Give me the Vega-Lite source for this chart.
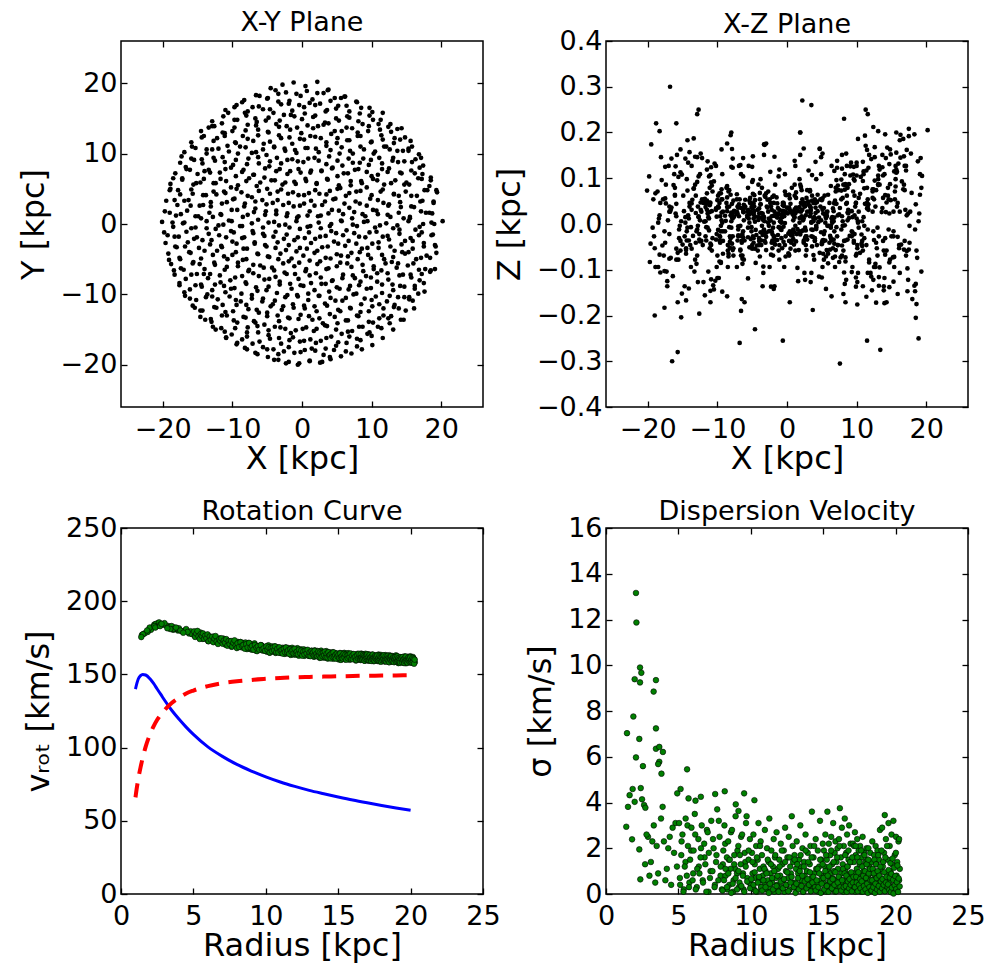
{
"$schema":"https://vega.github.io/schema/vega-lite/v6.json",
"background":"white",
"padding":{"left":16,"top":8,"right":5,"bottom":5},
"autosize":{"type":"pad"},
"config":{
"view":{"stroke":"black","strokeWidth":1.5},
"font":"DejaVu Sans",
"axis":{"labelFont":"DejaVu Sans","labelFontSize":27,"labelColor":"black","titleFont":"DejaVu Sans","titleFontSize":32,"titleFontWeight":"normal","titleColor":"black","grid":false,"domain":false,"tickColor":"black","tickWidth":1.3,"tickSize":-6,"labelFlush":false,"labelOverlap":false},
"axisX":{"labelPadding":15.5,"titlePadding":1},
"axisY":{"labelPadding":10,"titlePadding":10},
"title":{"font":"DejaVu Sans","fontSize":27,"fontWeight":"normal","color":"black","baseline":"alphabetic","frame":"group","anchor":"middle"}
},
"datasets":{
"pts":[
{"x":-4,"y":-19.3,"z":0.023},{"x":-2.3,"y":-19.8,"z":-0.067},{"x":-0.6,"y":-20,"z":0.041},{"x":1.1,"y":-19.4,"z":-0.018},{"x":2.9,"y":-19.6,"z":0.074},{"x":4,"y":-18.9,"z":-0.036},
{"x":-8.2,"y":-17.6,"z":-0.052},{"x":-6.7,"y":-18.3,"z":0.129},{"x":-5,"y":-17.8,"z":0.035},{"x":-3.4,"y":-18.5,"z":-0.093},{"x":-1.9,"y":-17.5,"z":0.018},{"x":-0.2,"y":-18.2,"z":0.064},{"x":1.4,"y":-17.7,"z":-0.022},{"x":3.1,"y":-18.6,"z":0.049},{"x":4.6,"y":-17.9,"z":-0.115},{"x":6.3,"y":-18.1,"z":0.083},{"x":7.9,"y":-17.4,"z":-0.047},
{"x":-10.9,"y":-16.2,"z":0.091},{"x":-9.3,"y":-16.9,"z":-0.148},{"x":-7.9,"y":-16,"z":0.024},{"x":-6.1,"y":-16.7,"z":-0.036},{"x":-4.6,"y":-16.3,"z":0.052},{"x":-3,"y":-17,"z":-0.019},{"x":-1.3,"y":-16.1,"z":0.035},{"x":0.3,"y":-16.6,"z":-0.067},{"x":2,"y":-16.9,"z":0.081},{"x":3.5,"y":-16.2,"z":0.004},{"x":5.2,"y":-16.8,"z":-0.038},{"x":6.8,"y":-16,"z":0.116},{"x":8.4,"y":-16.5,"z":-0.082},{"x":10,"y":-15.9,"z":0.134},
{"x":-12.8,"y":-14.6,"z":-0.127},{"x":-11.1,"y":-15.3,"z":0.041},{"x":-9.6,"y":-14.8,"z":-0.028},{"x":-7.9,"y":-15.4,"z":0.164},{"x":-6.4,"y":-14.5,"z":-0.076},{"x":-4.8,"y":-15.1,"z":0.012},{"x":-3.1,"y":-14.7,"z":0.059},{"x":-1.6,"y":-15.5,"z":-0.035},{"x":0.1,"y":-14.9,"z":0.023},{"x":1.7,"y":-15.2,"z":-0.057},{"x":3.3,"y":-14.4,"z":0.071},{"x":4.9,"y":-15,"z":-0.018},{"x":6.6,"y":-15.3,"z":0.034},{"x":8.2,"y":-14.6,"z":-0.106},{"x":9.7,"y":-15.4,"z":0.062},{"x":11.4,"y":-14.8,"z":-0.159},{"x":12.6,"y":-14.1,"z":0.095},
{"x":-14.6,"y":-13.2,"z":0.143},{"x":-13,"y":-13.9,"z":-0.087},{"x":-11.5,"y":-13,"z":0.031},{"x":-9.8,"y":-13.7,"z":-0.118},{"x":-8.1,"y":-13.3,"z":0.064},{"x":-6.7,"y":-14,"z":-0.026},{"x":-5,"y":-13.1,"z":0.092},{"x":-3.3,"y":-13.8,"z":0.015},{"x":-1.8,"y":-13.4,"z":-0.043},{"x":-0.2,"y":-12.9,"z":0.027},{"x":1.5,"y":-13.6,"z":-0.011},{"x":3,"y":-14.1,"z":0.048},{"x":4.7,"y":-13.2,"z":-0.063},{"x":6.3,"y":-13.7,"z":-0.004},{"x":7.9,"y":-13,"z":0.121},{"x":9.6,"y":-13.9,"z":-0.037},{"x":11.1,"y":-13.4,"z":0.078},{"x":12.8,"y":-13.1,"z":-0.172},{"x":14.2,"y":-13.6,"z":0.026},
{"x":-15.7,"y":-11.6,"z":-0.28},{"x":-14.3,"y":-12.3,"z":0.073},{"x":-12.6,"y":-11.8,"z":-0.034},{"x":-11,"y":-12.5,"z":0.107},{"x":-9.4,"y":-11.5,"z":0.025},{"x":-7.7,"y":-12.1,"z":-0.069},{"x":-6.2,"y":-12.6,"z":0.042},{"x":-4.5,"y":-11.7,"z":-0.013},{"x":-2.9,"y":-12.2,"z":0.038},{"x":-1.3,"y":-11.4,"z":-0.024},{"x":0.4,"y":-12,"z":0.056},{"x":2.1,"y":-12.4,"z":0.017},{"x":3.6,"y":-11.6,"z":-0.049},{"x":5.2,"y":-12.2,"z":0.023},{"x":6.9,"y":-11.9,"z":-0.071},{"x":8.4,"y":-12.5,"z":0.085},{"x":10.1,"y":-11.7,"z":-0.127},{"x":11.7,"y":-12,"z":0.043},{"x":13.3,"y":-11.5,"z":-0.095},{"x":14.9,"y":-12.3,"z":0.152},{"x":15.9,"y":-10.9,"z":-0.028},
{"x":-16.8,"y":-10.2,"z":0.3},{"x":-15.2,"y":-10.8,"z":-0.204},{"x":-13.6,"y":-10,"z":0.053},{"x":-12.1,"y":-10.7,"z":-0.046},{"x":-10.4,"y":-10.3,"z":0.132},{"x":-8.8,"y":-11,"z":0.007},{"x":-7.2,"y":-10.1,"z":-0.094},{"x":-5.6,"y":-10.6,"z":0.031},{"x":-3.9,"y":-10.9,"z":0.068},{"x":-2.4,"y":-10.4,"z":-0.015},{"x":-0.7,"y":-10.1,"z":0.029},{"x":0.9,"y":-10.8,"z":-0.033},{"x":2.5,"y":-10.2,"z":0.047},{"x":4.1,"y":-10.5,"z":0.012},{"x":5.8,"y":-10.9,"z":-0.058},{"x":7.4,"y":-10,"z":0.074},{"x":9,"y":-10.6,"z":-0.026},{"x":10.6,"y":-10.3,"z":0.103},{"x":12.2,"y":-11,"z":-0.145},{"x":13.8,"y":-10.4,"z":0.057},{"x":15.4,"y":-10.7,"z":-0.072},{"x":16.7,"y":-9.9,"z":0.186},
{"x":-17.6,"y":-8.7,"z":-0.103},{"x":-16.1,"y":-9.3,"z":0.064},{"x":-14.5,"y":-8.6,"z":-0.167},{"x":-12.9,"y":-9.4,"z":0.092},{"x":-11.2,"y":-8.8,"z":-0.014},{"x":-9.7,"y":-9.1,"z":0.046},{"x":-8,"y":-8.5,"z":0.125},{"x":-6.4,"y":-9.5,"z":-0.069},{"x":-4.8,"y":-8.9,"z":0.024},{"x":-3.2,"y":-8.6,"z":-0.037},{"x":-1.5,"y":-9.2,"z":0.058},{"x":0.2,"y":-8.8,"z":-0.021},{"x":1.8,"y":-9.4,"z":0.013},{"x":3.4,"y":-8.5,"z":0.036},{"x":5,"y":-9,"z":-0.044},{"x":6.7,"y":-9.3,"z":0.006},{"x":8.2,"y":-8.7,"z":0.23},{"x":9.9,"y":-9.1,"z":-0.117},{"x":11.5,"y":-8.6,"z":0.034},{"x":13.1,"y":-9.4,"z":0.085},{"x":14.7,"y":-8.9,"z":-0.138},{"x":16.2,"y":-9.2,"z":0.027},{"x":17.5,"y":-8.4,"z":-0.056},
{"x":-18.3,"y":-7.2,"z":0.203},{"x":-16.7,"y":-7.8,"z":-0.074},{"x":-15.1,"y":-7.1,"z":0.108},{"x":-13.5,"y":-7.7,"z":-0.026},{"x":-11.8,"y":-7.3,"z":0.055},{"x":-10.3,"y":-8,"z":-0.124},{"x":-8.6,"y":-7.4,"z":0.037},{"x":-7,"y":-7,"z":-0.005},{"x":-5.4,"y":-7.9,"z":-0.051},{"x":-3.8,"y":-7.5,"z":0.043},{"x":-2.2,"y":-7.1,"z":0.017},{"x":-0.5,"y":-7.8,"z":-0.039},{"x":1.1,"y":-7.3,"z":0.062},{"x":2.7,"y":-7.6,"z":-0.014},{"x":4.4,"y":-8,"z":0.028},{"x":5.9,"y":-7.2,"z":-0.086},{"x":7.6,"y":-7.7,"z":-0.305},{"x":9.2,"y":-7.4,"z":0.134},{"x":10.8,"y":-7,"z":-0.048},{"x":12.4,"y":-7.9,"z":0.076},{"x":14,"y":-7.3,"z":-0.173},{"x":15.7,"y":-7.6,"z":0.112},{"x":17.2,"y":-7.1,"z":0.019},{"x":18.4,"y":-6.8,"z":-0.147},
{"x":-18.8,"y":-5.7,"z":0.22},{"x":-17.4,"y":-6.3,"z":0.045},{"x":-15.7,"y":-5.6,"z":-0.063},{"x":-14,"y":-6.4,"z":0.157},{"x":-12.5,"y":-5.8,"z":-0.038},{"x":-10.8,"y":-6.1,"z":0.084},{"x":-9.2,"y":-5.5,"z":-0.016},{"x":-7.6,"y":-6.5,"z":0.029},{"x":-6,"y":-5.9,"z":0.053},{"x":-4.3,"y":-6.2,"z":-0.047},{"x":-2.7,"y":-5.6,"z":0.003},{"x":-1.1,"y":-6,"z":0.031},{"x":0.6,"y":-6.4,"z":-0.025},{"x":2.2,"y":-5.7,"z":0.044},{"x":3.8,"y":-6.3,"z":-0.068},{"x":5.5,"y":-5.5,"z":0.019},{"x":7.1,"y":-6.1,"z":0.096},{"x":8.7,"y":-5.8,"z":-0.034},{"x":10.3,"y":-6.4,"z":0.057},{"x":12,"y":-5.6,"z":-0.107},{"x":13.6,"y":-6.2,"z":0.026},{"x":15.2,"y":-5.9,"z":-0.073},{"x":16.8,"y":-6.5,"z":0.148},{"x":18.5,"y":-6.6,"z":-0.205},
{"x":-19.2,"y":-4.2,"z":0.054},{"x":-17.6,"y":-4.8,"z":-0.183},{"x":-16,"y":-4.1,"z":0.126},{"x":-14.5,"y":-4.9,"z":-0.057},{"x":-12.8,"y":-4.4,"z":0.038},{"x":-11.2,"y":-4.6,"z":0.104},{"x":-9.5,"y":-4,"z":-0.083},{"x":-8,"y":-5,"z":0.025},{"x":-6.3,"y":-4.3,"z":-0.029},{"x":-4.7,"y":-4.7,"z":0.063},{"x":-3.1,"y":-4.2,"z":-0.041},{"x":-1.5,"y":-4.9,"z":0.017},{"x":0.2,"y":-4.5,"z":0.034},{"x":1.8,"y":-4.1,"z":-0.016},{"x":3.4,"y":-4.8,"z":0.029},{"x":5,"y":-4.3,"z":0.052},{"x":6.6,"y":-4.6,"z":-0.074},{"x":8.3,"y":-4,"z":-0.003},{"x":9.9,"y":-4.9,"z":0.046},{"x":11.5,"y":-4.4,"z":-0.255},{"x":13.1,"y":-4.7,"z":0.087},{"x":14.8,"y":-4.2,"z":0.163},{"x":16.4,"y":-5,"z":-0.045},{"x":17.9,"y":-4.5,"z":0.068},{"x":19.3,"y":-4.1,"z":-0.104},
{"x":-19.6,"y":-2.7,"z":-0.043},{"x":-18,"y":-3.3,"z":0.096},{"x":-16.4,"y":-2.6,"z":-0.114},{"x":-14.8,"y":-3.4,"z":0.028},{"x":-13.2,"y":-2.9,"z":0.147},{"x":-11.6,"y":-3.1,"z":-0.036},{"x":-10,"y":-2.5,"z":0.052},{"x":-8.4,"y":-3.5,"z":-0.065},{"x":-6.8,"y":-2.8,"z":-0.26},{"x":-5.1,"y":-3.2,"z":0.037},{"x":-3.5,"y":-2.6,"z":-0.024},{"x":-1.9,"y":-3,"z":0.046},{"x":-0.3,"y":-3.4,"z":0.002},{"x":1.3,"y":-2.7,"z":-0.038},{"x":2.9,"y":-3.3,"z":0.027},{"x":4.6,"y":-2.5,"z":0.014},{"x":6.2,"y":-3.1,"z":-0.056},{"x":7.8,"y":-2.8,"z":0.073},{"x":9.4,"y":-3.4,"z":-0.018},{"x":11,"y":-2.6,"z":0.115},{"x":12.7,"y":-3.2,"z":-0.094},{"x":14.3,"y":-2.9,"z":0.047},{"x":15.9,"y":-3.5,"z":-0.153},{"x":17.5,"y":-2.7,"z":0.192},{"x":19.1,"y":-3,"z":0.064},
{"x":-19.8,"y":-1.2,"z":0.104},{"x":-18.3,"y":-1.8,"z":-0.067},{"x":-16.6,"y":-1.1,"z":0.036},{"x":-15.1,"y":-1.9,"z":-0.152},{"x":-13.4,"y":-1.4,"z":0.078},{"x":-11.9,"y":-1.6,"z":0.005},{"x":-10.2,"y":-1,"z":-0.034},{"x":-8.6,"y":-2,"z":0.058},{"x":-7,"y":-1.3,"z":-0.027},{"x":-5.4,"y":-1.7,"z":0.021},{"x":-3.8,"y":-1.1,"z":0.043},{"x":-2.2,"y":-1.5,"z":-0.016},{"x":-0.6,"y":-1.9,"z":-0.255},{"x":1,"y":-1.2,"z":-0.045},{"x":2.6,"y":-1.8,"z":0.039},{"x":4.2,"y":-1,"z":-0.007},{"x":5.9,"y":-1.6,"z":0.064},{"x":7.5,"y":-1.3,"z":-0.083},{"x":9.1,"y":-1.9,"z":0.126},{"x":10.7,"y":-1.1,"z":-0.023},{"x":12.3,"y":-1.7,"z":0.057},{"x":14,"y":-1.4,"z":-0.118},{"x":15.6,"y":-2,"z":0.082},{"x":17.2,"y":-1.2,"z":-0.059},{"x":18.8,"y":-1.5,"z":0.137},
{"x":-20.1,"y":0.3,"z":0.073},{"x":-18.5,"y":-0.4,"z":-0.094},{"x":-16.9,"y":0.2,"z":0.027},{"x":-15.3,"y":-0.5,"z":0.113},{"x":-13.7,"y":0.4,"z":-0.054},{"x":-12,"y":-0.2,"z":0.046},{"x":-10.5,"y":0.5,"z":-0.143},{"x":-8.9,"y":-0.3,"z":0.018},{"x":-7.2,"y":0.1,"z":0.065},{"x":-5.6,"y":-0.5,"z":-0.029},{"x":-4,"y":0.3,"z":0.034},{"x":-2.4,"y":-0.1,"z":0.008},{"x":-0.8,"y":0.4,"z":-0.013},{"x":0.8,"y":-0.4,"z":0.026},{"x":2.4,"y":0.2,"z":-0.037},{"x":4,"y":-0.3,"z":0.054},{"x":5.6,"y":0.5,"z":0.015},{"x":7.3,"y":-0.1,"z":-0.046},{"x":8.9,"y":0.3,"z":0.087},{"x":10.5,"y":-0.5,"z":-0.063},{"x":12.1,"y":0.1,"z":0.142},{"x":13.7,"y":-0.2,"z":0.035},{"x":15.3,"y":0.4,"z":-0.126},{"x":16.9,"y":-0.4,"z":0.074},{"x":18.6,"y":0.2,"z":-0.175},{"x":20.2,"y":0.4,"z":0.205},
{"x":-19.7,"y":1.8,"z":-0.083},{"x":-18.1,"y":1.2,"z":0.146},{"x":-16.5,"y":1.9,"z":-0.3},{"x":-14.9,"y":1.1,"z":0.062},{"x":-13.3,"y":1.6,"z":-0.104},{"x":-11.7,"y":1.4,"z":0.037},{"x":-10.1,"y":2,"z":0.016},{"x":-8.5,"y":1,"z":-0.058},{"x":-6.9,"y":1.7,"z":0.043},{"x":-5.3,"y":1.3,"z":0.024},{"x":-3.7,"y":1.9,"z":-0.036},{"x":-2.1,"y":1.5,"z":0.059},{"x":-0.5,"y":1.1,"z":-0.006},{"x":1.1,"y":1.8,"z":0.032},{"x":2.7,"y":1.2,"z":-0.027},{"x":4.3,"y":2,"z":0.048},{"x":5.9,"y":1.4,"z":-0.065},{"x":7.5,"y":1.7,"z":0.021},{"x":9.1,"y":1.1,"z":0.106},{"x":10.7,"y":1.9,"z":-0.043},{"x":12.3,"y":1.3,"z":0.076},{"x":13.9,"y":1.6,"z":-0.145},{"x":15.5,"y":1,"z":0.054},{"x":17.1,"y":1.8,"z":0.127},{"x":18.7,"y":1.5,"z":-0.074},
{"x":-19.5,"y":3.3,"z":0.174},{"x":-17.9,"y":2.7,"z":-0.047},{"x":-16.3,"y":3.4,"z":0.085},{"x":-14.7,"y":2.6,"z":-0.136},{"x":-13.1,"y":3.1,"z":0.024},{"x":-11.5,"y":2.9,"z":0.067},{"x":-9.9,"y":3.5,"z":-0.013},{"x":-8.3,"y":2.5,"z":0.038},{"x":-6.7,"y":3.2,"z":-0.056},{"x":-5.1,"y":2.8,"z":0.045},{"x":-3.5,"y":3.4,"z":0.012},{"x":-1.9,"y":3,"z":-0.028},{"x":-0.3,"y":2.6,"z":0.026},{"x":1.3,"y":3.3,"z":0.057},{"x":2.9,"y":2.7,"z":-0.034},{"x":4.5,"y":3.5,"z":0.004},{"x":6.1,"y":2.9,"z":0.046},{"x":7.7,"y":3.2,"z":-0.073},{"x":9.3,"y":2.6,"z":0.028},{"x":10.9,"y":3.4,"z":0.094},{"x":12.5,"y":2.8,"z":-0.035},{"x":14.1,"y":3.1,"z":0.063},{"x":15.7,"y":2.5,"z":0.156},{"x":17.3,"y":3.3,"z":-0.097},{"x":18.9,"y":3,"z":-0.25},
{"x":-19,"y":4.8,"z":-0.2},{"x":-17.5,"y":4.2,"z":0.056},{"x":-15.9,"y":4.9,"z":-0.078},{"x":-14.2,"y":4.1,"z":0.134},{"x":-12.7,"y":4.6,"z":0.015},{"x":-11,"y":4.4,"z":-0.043},{"x":-9.4,"y":5,"z":0.076},{"x":-7.8,"y":4,"z":-0.027},{"x":-6.2,"y":4.7,"z":0.034},{"x":-4.6,"y":4.3,"z":0.005},{"x":-3,"y":4.9,"z":-0.057},{"x":-1.3,"y":4.5,"z":0.023},{"x":0.3,"y":4.1,"z":0.064},{"x":1.9,"y":4.8,"z":-0.018},{"x":3.5,"y":4.2,"z":0.26},{"x":5.1,"y":5,"z":-0.036},{"x":6.8,"y":4.4,"z":0.014},{"x":8.4,"y":4.7,"z":0.087},{"x":10,"y":4.1,"z":-0.065},{"x":11.6,"y":4.9,"z":0.037},{"x":13.2,"y":4.3,"z":-0.116},{"x":14.9,"y":4.6,"z":0.052},{"x":16.5,"y":4,"z":0.093},{"x":18,"y":4.8,"z":-0.164},{"x":19.4,"y":4.5,"z":0.105},
{"x":-18.9,"y":5.7,"z":0.067},{"x":-17.2,"y":6.3,"z":-0.125},{"x":-15.6,"y":5.6,"z":0.103},{"x":-14.1,"y":6.4,"z":-0.036},{"x":-12.4,"y":5.8,"z":0.047},{"x":-10.9,"y":6.1,"z":0.124},{"x":-9.2,"y":5.5,"z":-0.065},{"x":-7.6,"y":6.5,"z":0.016},{"x":-6,"y":5.9,"z":0.038},{"x":-4.4,"y":6.2,"z":-0.024},{"x":-2.8,"y":5.6,"z":0.053},{"x":-1.1,"y":6,"z":-0.046},{"x":0.5,"y":6.4,"z":0.027},{"x":2.1,"y":5.7,"z":0.074},{"x":3.7,"y":6.3,"z":-0.013},{"x":5.3,"y":5.5,"z":0.035},{"x":7,"y":6.1,"z":-0.057},{"x":8.6,"y":5.8,"z":0.046},{"x":10.2,"y":6.4,"z":0.006},{"x":11.8,"y":5.6,"z":-0.084},{"x":13.4,"y":6.2,"z":-0.275},{"x":15,"y":5.9,"z":-0.027},{"x":16.7,"y":6.5,"z":0.076},{"x":18.3,"y":5.4,"z":-0.135},
{"x":-18.2,"y":7.2,"z":-0.106},{"x":-16.6,"y":7.8,"z":0.143},{"x":-15,"y":7.1,"z":-0.045},{"x":-13.4,"y":7.7,"z":0.077},{"x":-11.8,"y":7.3,"z":-0.156},{"x":-10.2,"y":8,"z":0.034},{"x":-8.6,"y":7.4,"z":0.083},{"x":-7,"y":7,"z":-0.025},{"x":-5.3,"y":7.9,"z":0.057},{"x":-3.7,"y":7.5,"z":0.014},{"x":-2.1,"y":7.1,"z":-0.036},{"x":-0.5,"y":7.8,"z":0.046},{"x":1.2,"y":7.3,"z":0.023},{"x":2.8,"y":7.6,"z":-0.057},{"x":4.4,"y":8,"z":0.064},{"x":6,"y":7.2,"z":-0.004},{"x":7.6,"y":7.7,"z":0.035},{"x":9.3,"y":7.4,"z":-0.105},{"x":10.9,"y":7,"z":0.136},{"x":12.5,"y":7.9,"z":0.054},{"x":14.1,"y":7.3,"z":-0.067},{"x":15.7,"y":7.6,"z":0.2},{"x":17.3,"y":7.1,"z":-0.147},{"x":18.5,"y":6.6,"z":0.043},
{"x":-17.5,"y":8.7,"z":0.125},{"x":-15.9,"y":9.3,"z":-0.054},{"x":-14.3,"y":8.6,"z":0.183},{"x":-12.7,"y":9.4,"z":0.25},{"x":-11.1,"y":8.8,"z":0.026},{"x":-9.5,"y":9.1,"z":0.067},{"x":-7.9,"y":8.5,"z":-0.043},{"x":-6.3,"y":9.5,"z":0.104},{"x":-4.6,"y":8.9,"z":0.016},{"x":-3,"y":8.6,"z":-0.028},{"x":-1.4,"y":9.2,"z":0.045},{"x":0.2,"y":8.8,"z":-0.064},{"x":1.8,"y":9.4,"z":0.037},{"x":3.5,"y":8.5,"z":0.003},{"x":5.1,"y":9,"z":0.056},{"x":6.7,"y":9.3,"z":-0.034},{"x":8.3,"y":8.7,"z":0.075},{"x":9.9,"y":9.1,"z":-0.137},{"x":11.5,"y":8.6,"z":0.046},{"x":13.1,"y":9.4,"z":0.106},{"x":14.7,"y":8.9,"z":-0.084},{"x":16.3,"y":9.2,"z":0.145},{"x":17.4,"y":8.3,"z":0.023},
{"x":-16.9,"y":10.2,"z":-0.076},{"x":-15.3,"y":10.8,"z":0.163},{"x":-13.7,"y":10,"z":0.045},{"x":-12,"y":10.7,"z":-0.127},{"x":-10.5,"y":10.3,"z":0.093},{"x":-8.9,"y":11,"z":-0.016},{"x":-7.2,"y":10.1,"z":0.054},{"x":-5.6,"y":10.6,"z":0.027},{"x":-4,"y":10.9,"z":-0.046},{"x":-2.4,"y":10.4,"z":0.114},{"x":-0.8,"y":10.1,"z":0.004},{"x":0.8,"y":10.8,"z":-0.025},{"x":2.4,"y":10.2,"z":0.165},{"x":4.1,"y":10.5,"z":0.036},{"x":5.7,"y":10.9,"z":-0.057},{"x":7.3,"y":10,"z":0.084},{"x":8.9,"y":10.6,"z":0.013},{"x":10.5,"y":10.3,"z":0.066},{"x":12.1,"y":11,"z":-0.115},{"x":13.7,"y":10.4,"z":0.124},{"x":15.3,"y":10.7,"z":0.027},{"x":16.8,"y":9.9,"z":-0.056},
{"x":-15.9,"y":11.6,"z":0.22},{"x":-14.4,"y":12.3,"z":-0.036},{"x":-12.7,"y":11.8,"z":0.104},{"x":-11.1,"y":12.5,"z":0.047},{"x":-9.5,"y":11.5,"z":-0.085},{"x":-7.8,"y":12.1,"z":0.143},{"x":-6.3,"y":12.6,"z":0.026},{"x":-4.6,"y":11.7,"z":-0.054},{"x":-3,"y":12.2,"z":0.067},{"x":-1.4,"y":11.4,"z":0.014},{"x":0.3,"y":12,"z":0.036},{"x":1.9,"y":12.4,"z":0.2},{"x":3.5,"y":11.6,"z":-0.027},{"x":5.1,"y":12.2,"z":0.154},{"x":6.8,"y":11.9,"z":0.045},{"x":8.4,"y":12.5,"z":-0.073},{"x":10,"y":11.7,"z":0.106},{"x":11.6,"y":12,"z":0.24},{"x":13.2,"y":11.5,"z":-0.135},{"x":14.8,"y":12.3,"z":0.087},{"x":15.8,"y":11,"z":0.114},
{"x":-14.5,"y":13.2,"z":-0.065},{"x":-12.9,"y":13.9,"z":0.24},{"x":-11.4,"y":13,"z":0.137},{"x":-9.7,"y":13.7,"z":-0.026},{"x":-8.1,"y":13.3,"z":0.194},{"x":-6.6,"y":14,"z":0.035},{"x":-4.9,"y":13.1,"z":0.096},{"x":-3.3,"y":13.8,"z":0.174},{"x":-1.7,"y":13.4,"z":-0.045},{"x":-0.1,"y":12.9,"z":0.063},{"x":1.6,"y":13.6,"z":0.028},{"x":3.1,"y":14.1,"z":0.117},{"x":4.7,"y":13.2,"z":0.165},{"x":6.4,"y":13.7,"z":-0.036},{"x":8,"y":13,"z":0.057},{"x":9.6,"y":13.9,"z":0.125},{"x":11.2,"y":13.4,"z":0.193},{"x":12.8,"y":13.1,"z":0.074},{"x":14.3,"y":13.6,"z":-0.058},
{"x":-12.9,"y":14.6,"z":0.146},{"x":-11.3,"y":15.3,"z":-0.104},{"x":-9.7,"y":14.8,"z":0.067},{"x":-8,"y":15.4,"z":0.2},{"x":-6.5,"y":14.5,"z":-0.164},{"x":-4.8,"y":15.1,"z":0.045},{"x":-3.2,"y":14.7,"z":0.173},{"x":-1.6,"y":15.5,"z":0.017},{"x":0,"y":14.9,"z":0.036},{"x":1.6,"y":15.2,"z":-0.125},{"x":3.3,"y":14.4,"z":0.074},{"x":4.9,"y":15,"z":0.146},{"x":6.5,"y":15.3,"z":0.006},{"x":8.1,"y":14.6,"z":-0.153},{"x":9.7,"y":15.4,"z":0.095},{"x":11.3,"y":14.8,"z":0.25},{"x":12.7,"y":14.2,"z":-0.087},
{"x":-11,"y":16.2,"z":-0.146},{"x":-9.4,"y":16.9,"z":0.054},{"x":-7.8,"y":16,"z":-0.057},{"x":-6.2,"y":16.7,"z":0.026},{"x":-4.6,"y":16.3,"z":-0.23},{"x":-3,"y":17,"z":0.176},{"x":-1.4,"y":16.1,"z":-0.035},{"x":0.3,"y":16.6,"z":0.064},{"x":1.9,"y":16.9,"z":0.2},{"x":3.6,"y":16.2,"z":0.107},{"x":5.2,"y":16.8,"z":-0.065},{"x":6.8,"y":16,"z":-0.043},{"x":8.5,"y":16.5,"z":0.154},{"x":10.1,"y":15.9,"z":-0.176},
{"x":-8.3,"y":17.6,"z":0.074},{"x":-6.6,"y":18.3,"z":-0.19},{"x":-5,"y":17.8,"z":0.125},{"x":-3.4,"y":18.5,"z":-0.016},{"x":-1.8,"y":17.5,"z":0.147},{"x":-0.2,"y":18.2,"z":0.025},{"x":1.5,"y":17.7,"z":-0.096},{"x":3.1,"y":18.6,"z":0.043},{"x":4.7,"y":17.9,"z":0.164},{"x":6.2,"y":18.1,"z":-0.026},{"x":7.8,"y":17.4,"z":0.097},
{"x":-4.5,"y":19.3,"z":-0.085},{"x":-2.8,"y":19.8,"z":0.036},{"x":-1.2,"y":20.1,"z":0.104},{"x":0.5,"y":19.6,"z":-0.054},{"x":2.2,"y":20.2,"z":0.27},{"x":3.8,"y":19.1,"z":0.046},
{"y":-6.6,"x":-18.4,"z":0.012},{"y":-5.1,"x":-19.1,"z":-0.027},{"y":-3.2,"x":-18.2,"z":0.046},{"y":-1.6,"x":-19.3,"z":-0.008},{"y":0.2,"x":-18.6,"z":0.071},{"y":1.6,"x":-19,"z":-0.053},{"y":3.4,"x":-18.3,"z":0.019},{"y":5,"x":-18.9,"z":-0.094},{"y":6.5,"x":-18.5,"z":0.003},
{"y":-9.7,"x":-16.9,"z":0.038},{"y":-8.4,"x":-17.6,"z":-0.016},{"y":-6.5,"x":-17,"z":0.127},{"y":-5,"x":-17.5,"z":-0.041},{"y":-3.2,"x":-16.8,"z":0.027},{"y":-1.8,"x":-17.7,"z":-0.069},{"y":0.1,"x":-17.1,"z":0.008},{"y":1.4,"x":-17.4,"z":0.086},{"y":3.3,"x":-16.9,"z":-0.022},{"y":4.8,"x":-17.8,"z":0.054},{"y":6.5,"x":-17.2,"z":-0.136},{"y":8.1,"x":-16.7,"z":0.031},{"y":9.6,"x":-17.3,"z":-0.104},
{"y":-11.9,"x":-15.4,"z":-0.004},{"y":-10.6,"x":-16.1,"z":0.062},{"y":-8.7,"x":-15.3,"z":-0.037},{"y":-7.2,"x":-15.9,"z":0.017},{"y":-5.4,"x":-15.6,"z":-0.078},{"y":-4,"x":-16.2,"z":0.109},{"y":-2.1,"x":-15.5,"z":-0.012},{"y":-0.6,"x":-15.9,"z":0.044},{"y":1.1,"x":-15.3,"z":-0.058},{"y":2.6,"x":-16,"z":0.023},{"y":4.3,"x":-15.7,"z":-0.171},{"y":5.8,"x":-15.2,"z":0.006},{"y":7.7,"x":-16.1,"z":0.079},{"y":9.1,"x":-15.5,"z":-0.031},{"y":11,"x":-15.8,"z":0.151},
{"y":-13.6,"x":-13.9,"z":-0.046},{"y":-12.3,"x":-14.6,"z":0.015},{"y":-10.4,"x":-13.8,"z":-0.007},{"y":-8.9,"x":-14.4,"z":0.098},{"y":-7.1,"x":-14.1,"z":0.012},{"y":-5.7,"x":-14.7,"z":-0.027},{"y":-3.8,"x":-14,"z":0.046},{"y":-2.3,"x":-14.3,"z":-0.008},{"y":-0.6,"x":-13.7,"z":0.031},{"y":0.8,"x":-14.5,"z":-0.053},{"y":2.7,"x":-14.2,"z":0.019},{"y":4.1,"x":-13.8,"z":-0.094},{"y":5.9,"x":-14.6,"z":0.003},{"y":7.5,"x":-14,"z":0.038},{"y":9.2,"x":-14.4,"z":-0.016},{"y":10.6,"x":-13.7,"z":0.127},{"y":12.5,"x":-14.1,"z":-0.141},{"y":13.7,"x":-13.4,"z":0.187},
{"y":-15,"x":-12.4,"z":0.154},{"y":-13.5,"x":-13.1,"z":-0.041},{"y":-11.9,"x":-12.3,"z":0.027},{"y":-10.3,"x":-12.9,"z":-0.069},{"y":-8.6,"x":-12.5,"z":0.008},{"y":-7.1,"x":-13.2,"z":0.086},{"y":-5.5,"x":-12.6,"z":-0.022},{"y":-3.8,"x":-12.2,"z":0.054},{"y":-2.3,"x":-13,"z":-0.016},{"y":-0.7,"x":-12.4,"z":0.031},{"y":1,"x":-12.8,"z":-0.004},{"y":2.5,"x":-13.1,"z":0.062},{"y":4.2,"x":-12.3,"z":-0.037},{"y":5.8,"x":-12.7,"z":0.017},{"y":7.3,"x":-13.2,"z":-0.078},{"y":9,"x":-12.5,"z":0.109},{"y":10.6,"x":-12.9,"z":-0.012},{"y":12.2,"x":-12.2,"z":0.144},{"y":13.9,"x":-12.6,"z":-0.196},
{"y":-16.1,"x":-10.9,"z":-0.121},{"y":-14.8,"x":-11.6,"z":0.044},{"y":-13,"x":-10.8,"z":-0.058},{"y":-11.5,"x":-11.4,"z":0.023},{"y":-9.7,"x":-11,"z":-0.171},{"y":-8.3,"x":-11.7,"z":0.006},{"y":-6.5,"x":-11.1,"z":0.079},{"y":-5,"x":-10.7,"z":-0.031},{"y":-3.3,"x":-11.5,"z":0.051},{"y":-1.9,"x":-10.9,"z":-0.046},{"y":-0.1,"x":-11.3,"z":0.015},{"y":1.3,"x":-11.6,"z":-0.007},{"y":3.1,"x":-10.8,"z":0.028},{"y":4.6,"x":-11.2,"z":0.012},{"y":6.4,"x":-11.7,"z":-0.027},{"y":7.8,"x":-11,"z":0.046},{"y":9.5,"x":-11.4,"z":-0.008},{"y":11.1,"x":-10.7,"z":0.071},{"y":12.9,"x":-11.1,"z":-0.053},{"y":14.3,"x":-11.5,"z":0.119},{"y":15.8,"x":-10.6,"z":-0.134},
{"y":-17.1,"x":-9.4,"z":0.163},{"y":-15.7,"x":-10.1,"z":-0.094},{"y":-14,"x":-9.3,"z":0.003},{"y":-12.4,"x":-9.9,"z":0.038},{"y":-10.8,"x":-9.5,"z":-0.016},{"y":-9.2,"x":-10.2,"z":0.127},{"y":-7.6,"x":-9.6,"z":-0.041},{"y":-6,"x":-9.2,"z":0.027},{"y":-4.4,"x":-10,"z":-0.069},{"y":-2.8,"x":-9.4,"z":0.008},{"y":-1.2,"x":-9.8,"z":0.036},{"y":0.4,"x":-10.1,"z":-0.022},{"y":2,"x":-9.3,"z":0.054},{"y":3.6,"x":-9.7,"z":-0.036},{"y":5.2,"x":-10.2,"z":0.031},{"y":6.8,"x":-9.5,"z":-0.004},{"y":8.4,"x":-9.9,"z":0.062},{"y":10,"x":-9.2,"z":-0.037},{"y":11.6,"x":-9.6,"z":0.017},{"y":13.2,"x":-10,"z":-0.118},{"y":14.8,"x":-9.3,"z":0.109},{"y":16.6,"x":-9.7,"z":-0.082},
{"y":-17.8,"x":-7.9,"z":0.044},{"y":-16.4,"x":-8.6,"z":-0.158},{"y":-14.7,"x":-7.8,"z":0.023},{"y":-13.2,"x":-8.4,"z":-0.071},{"y":-11.5,"x":-8,"z":0.006},{"y":-9.9,"x":-8.7,"z":0.079},{"y":-8.3,"x":-8.1,"z":-0.031},{"y":-6.7,"x":-7.7,"z":0.051},{"y":-5.1,"x":-8.5,"z":-0.046},{"y":-3.5,"x":-7.9,"z":0.015},{"y":-1.9,"x":-8.3,"z":-0.007},{"y":-0.3,"x":-8.6,"z":0.028},{"y":1.3,"x":-7.8,"z":0.012},{"y":2.9,"x":-8.2,"z":-0.027},{"y":4.5,"x":-8.7,"z":0.046},{"y":6.1,"x":-8,"z":-0.008},{"y":7.7,"x":-8.4,"z":0.071},{"y":9.3,"x":-7.7,"z":-0.053},{"y":10.9,"x":-8.1,"z":0.019},{"y":12.5,"x":-8.5,"z":-0.094},{"y":14.1,"x":-7.8,"z":0.123},{"y":15.8,"x":-8.2,"z":-0.039},{"y":17.3,"x":-8.6,"z":0.176},
{"y":-18.5,"x":-6.4,"z":-0.087},{"y":-17,"x":-7.1,"z":0.038},{"y":-15.4,"x":-6.3,"z":-0.016},{"y":-13.8,"x":-6.9,"z":0.127},{"y":-12.2,"x":-6.5,"z":-0.041},{"y":-10.6,"x":-7.2,"z":0.027},{"y":-9,"x":-6.6,"z":-0.069},{"y":-7.4,"x":-6.2,"z":0.008},{"y":-5.8,"x":-7,"z":0.036},{"y":-4.2,"x":-6.4,"z":-0.022},{"y":-2.6,"x":-6.8,"z":0.054},{"y":-1,"x":-7.1,"z":-0.036},{"y":0.6,"x":-6.3,"z":0.031},{"y":2.2,"x":-6.7,"z":-0.004},{"y":3.8,"x":-7.2,"z":0.022},{"y":5.4,"x":-6.5,"z":-0.037},{"y":7,"x":-6.9,"z":0.017},{"y":8.6,"x":-6.2,"z":-0.078},{"y":10.2,"x":-6.6,"z":0.109},{"y":11.8,"x":-7,"z":-0.012},{"y":13.4,"x":-6.3,"z":0.144},{"y":15,"x":-6.7,"z":-0.058},{"y":16.6,"x":-7.1,"z":0.023},{"y":18.2,"x":-6.1,"z":-0.171},
{"y":-18.9,"x":-4.9,"z":0.066},{"y":-17.5,"x":-5.6,"z":0.079},{"y":-15.8,"x":-4.8,"z":-0.031},{"y":-14.3,"x":-5.4,"z":0.051},{"y":-12.6,"x":-5,"z":-0.046},{"y":-11,"x":-5.7,"z":0.015},{"y":-9.4,"x":-5.1,"z":-0.007},{"y":-7.8,"x":-4.7,"z":0.028},{"y":-6.2,"x":-5.5,"z":0.012},{"y":-4.6,"x":-4.9,"z":-0.027},{"y":-3,"x":-5.3,"z":0.046},{"y":-1.4,"x":-5.6,"z":-0.008},{"y":0.2,"x":-4.8,"z":0.021},{"y":1.8,"x":-5.2,"z":-0.033},{"y":3.4,"x":-5.7,"z":0.019},{"y":5,"x":-5,"z":-0.054},{"y":6.6,"x":-5.4,"z":0.003},{"y":8.2,"x":-4.7,"z":0.038},{"y":9.8,"x":-5.1,"z":-0.016},{"y":11.4,"x":-5.5,"z":0.127},{"y":13,"x":-4.8,"z":-0.041},{"y":14.7,"x":-5.2,"z":0.027},{"y":16.3,"x":-5.6,"z":-0.119},{"y":17.9,"x":-4.9,"z":0.148},
{"y":-19.3,"x":-3.4,"z":0.008},{"y":-17.8,"x":-4.1,"z":0.086},{"y":-16.2,"x":-3.3,"z":-0.022},{"y":-14.6,"x":-3.9,"z":0.054},{"y":-13,"x":-3.5,"z":-0.136},{"y":-11.4,"x":-4.2,"z":0.031},{"y":-9.8,"x":-3.6,"z":-0.004},{"y":-8.2,"x":-3.2,"z":0.062},{"y":-6.6,"x":-4,"z":-0.037},{"y":-5,"x":-3.4,"z":0.017},{"y":-3.4,"x":-3.8,"z":-0.018},{"y":-1.8,"x":-4.1,"z":0.009},{"y":-0.2,"x":-3.3,"z":-0.012},{"y":1.4,"x":-3.7,"z":0.024},{"y":3,"x":-4.2,"z":-0.058},{"y":4.6,"x":-3.5,"z":0.023},{"y":6.2,"x":-3.9,"z":-0.071},{"y":7.8,"x":-3.2,"z":0.006},{"y":9.4,"x":-3.6,"z":0.079},{"y":11,"x":-4,"z":-0.031},{"y":12.6,"x":-3.3,"z":0.151},{"y":14.2,"x":-3.7,"z":-0.046},{"y":15.8,"x":-4.1,"z":0.015},{"y":17.4,"x":-3.4,"z":-0.107},{"y":19,"x":-3.8,"z":0.098},
{"y":-19.6,"x":-1.9,"z":-0.142},{"y":-18.1,"x":-2.6,"z":0.012},{"y":-16.5,"x":-1.8,"z":-0.027},{"y":-14.9,"x":-2.4,"z":0.046},{"y":-13.3,"x":-2,"z":-0.008},{"y":-11.7,"x":-2.7,"z":0.071},{"y":-10.1,"x":-2.1,"z":-0.053},{"y":-8.5,"x":-1.7,"z":0.019},{"y":-6.9,"x":-2.5,"z":-0.094},{"y":-5.3,"x":-1.9,"z":0.003},{"y":-3.7,"x":-2.3,"z":0.038},{"y":-2.1,"x":-2.6,"z":-0.016},{"y":-0.5,"x":-1.8,"z":0.027},{"y":1.1,"x":-2.2,"z":-0.041},{"y":2.7,"x":-2.7,"z":0.027},{"y":4.3,"x":-2,"z":-0.069},{"y":5.9,"x":-2.4,"z":0.008},{"y":7.5,"x":-1.7,"z":0.086},{"y":9.1,"x":-2.1,"z":-0.022},{"y":10.7,"x":-2.5,"z":0.054},{"y":12.3,"x":-1.8,"z":-0.136},{"y":13.9,"x":-2.2,"z":0.031},{"y":15.5,"x":-2.6,"z":-0.004},{"y":17.1,"x":-1.9,"z":0.062},{"y":18.7,"x":-2.3,"z":-0.137},
{"y":-19.8,"x":-0.4,"z":0.017},{"y":-18.3,"x":-1.1,"z":-0.078},{"y":-16.7,"x":-0.3,"z":0.109},{"y":-15.1,"x":-0.9,"z":-0.012},{"y":-13.5,"x":-0.5,"z":0.044},{"y":-11.9,"x":-1.2,"z":-0.058},{"y":-10.3,"x":-0.6,"z":0.023},{"y":-8.7,"x":-0.2,"z":-0.071},{"y":-7.1,"x":-1,"z":0.006},{"y":-5.5,"x":-0.4,"z":0.039},{"y":-3.9,"x":-0.8,"z":-0.031},{"y":-2.3,"x":-1.1,"z":0.021},{"y":-0.7,"x":-0.3,"z":-0.046},{"y":0.9,"x":-0.7,"z":0.015},{"y":2.5,"x":-1.2,"z":-0.007},{"y":4.1,"x":-0.5,"z":0.028},{"y":5.7,"x":-0.9,"z":0.012},{"y":7.3,"x":-0.2,"z":-0.027},{"y":8.9,"x":-0.6,"z":0.046},{"y":10.5,"x":-1,"z":-0.008},{"y":12.1,"x":-0.3,"z":0.071},{"y":13.7,"x":-0.7,"z":-0.053},{"y":15.3,"x":-1.1,"z":0.119},{"y":16.9,"x":-0.4,"z":-0.094},{"y":18.5,"x":-0.8,"z":0.003},
{"y":-19.5,"x":1.1,"z":0.138},{"y":-17.9,"x":0.4,"z":-0.016},{"y":-16.4,"x":1.2,"z":0.127},{"y":-14.7,"x":0.6,"z":-0.041},{"y":-13.1,"x":1,"z":0.027},{"y":-11.6,"x":0.3,"z":-0.069},{"y":-9.9,"x":0.9,"z":0.008},{"y":-8.4,"x":1.3,"z":0.036},{"y":-6.7,"x":0.5,"z":-0.022},{"y":-5.2,"x":1.1,"z":0.014},{"y":-3.5,"x":0.7,"z":-0.036},{"y":-2,"x":0.4,"z":0.031},{"y":-0.3,"x":1.2,"z":-0.004},{"y":1.2,"x":0.8,"z":0.022},{"y":2.9,"x":0.3,"z":-0.037},{"y":4.4,"x":1,"z":0.017},{"y":6.1,"x":0.6,"z":-0.018},{"y":7.6,"x":1.3,"z":0.069},{"y":9.3,"x":0.9,"z":-0.012},{"y":10.8,"x":0.5,"z":0.044},{"y":12.5,"x":1.2,"z":-0.058},{"y":14,"x":0.8,"z":0.023},{"y":15.7,"x":0.4,"z":-0.171},{"y":17.2,"x":1.1,"z":0.086},{"y":18.9,"x":0.7,"z":0.079},
{"y":-19.7,"x":2.6,"z":-0.031},{"y":-18,"x":1.9,"z":0.151},{"y":-16.6,"x":2.7,"z":-0.046},{"y":-14.9,"x":2.1,"z":0.015},{"y":-13.4,"x":2.5,"z":-0.107},{"y":-11.7,"x":1.8,"z":0.098},{"y":-10.2,"x":2.4,"z":0.012},{"y":-8.5,"x":2.8,"z":-0.027},{"y":-7,"x":2,"z":0.046},{"y":-5.3,"x":2.6,"z":-0.008},{"y":-3.8,"x":2.2,"z":0.031},{"y":-2.1,"x":1.9,"z":-0.023},{"y":-0.6,"x":2.7,"z":0.019},{"y":1.1,"x":2.3,"z":-0.014},{"y":2.6,"x":1.8,"z":0.003},{"y":4.3,"x":2.5,"z":0.038},{"y":5.8,"x":2.1,"z":-0.016},{"y":7.5,"x":2.8,"z":0.057},{"y":9,"x":2.4,"z":-0.041},{"y":10.7,"x":2,"z":0.027},{"y":12.2,"x":2.7,"z":-0.069},{"y":13.9,"x":2.3,"z":0.008},{"y":15.4,"x":1.9,"z":0.086},{"y":17.1,"x":2.6,"z":-0.122},{"y":18.6,"x":2.2,"z":0.054},
{"y":-19.2,"x":4.1,"z":0.136},{"y":-17.7,"x":3.4,"z":0.031},{"y":-16,"x":4.2,"z":-0.004},{"y":-14.5,"x":3.6,"z":0.062},{"y":-12.8,"x":4,"z":-0.037},{"y":-11.3,"x":3.3,"z":0.017},{"y":-9.6,"x":3.9,"z":-0.078},{"y":-8.1,"x":4.3,"z":0.049},{"y":-6.4,"x":3.5,"z":-0.012},{"y":-4.9,"x":4.1,"z":0.024},{"y":-3.2,"x":3.7,"z":-0.028},{"y":-1.7,"x":3.4,"z":0.023},{"y":0,"x":4.2,"z":-0.011},{"y":1.5,"x":3.8,"z":0.006},{"y":3.2,"x":3.3,"z":0.039},{"y":4.7,"x":4,"z":-0.031},{"y":6.4,"x":3.6,"z":0.051},{"y":7.9,"x":4.3,"z":-0.046},{"y":9.6,"x":3.9,"z":0.015},{"y":11.1,"x":3.5,"z":-0.107},{"y":12.8,"x":4.2,"z":0.098},{"y":14.3,"x":3.8,"z":0.012},{"y":16,"x":3.4,"z":-0.127},{"y":17.5,"x":4.1,"z":0.046},{"y":19,"x":3.7,"z":-0.188},
{"y":-18.8,"x":5.6,"z":-0.071},{"y":-17.3,"x":4.9,"z":0.053},{"y":-15.6,"x":5.7,"z":0.019},{"y":-14.1,"x":5.1,"z":-0.094},{"y":-12.4,"x":5.5,"z":0.003},{"y":-10.9,"x":4.8,"z":0.038},{"y":-9.2,"x":5.4,"z":-0.016},{"y":-7.7,"x":5.8,"z":0.027},{"y":-6,"x":5,"z":-0.041},{"y":-4.5,"x":5.6,"z":0.013},{"y":-2.8,"x":5.2,"z":-0.035},{"y":-1.3,"x":4.9,"z":0.008},{"y":0.4,"x":5.7,"z":0.026},{"y":1.9,"x":5.3,"z":-0.022},{"y":3.6,"x":4.8,"z":0.054},{"y":5.1,"x":5.5,"z":-0.036},{"y":6.8,"x":5.1,"z":0.031},{"y":8.3,"x":5.8,"z":-0.004},{"y":10,"x":5.4,"z":0.062},{"y":11.5,"x":5,"z":-0.117},{"y":13.2,"x":5.7,"z":0.017},{"y":14.7,"x":5.3,"z":-0.078},{"y":16.4,"x":4.9,"z":0.109},{"y":17.9,"x":5.6,"z":-0.142},
{"y":-18.4,"x":7.1,"z":0.044},{"y":-16.9,"x":6.4,"z":-0.158},{"y":-15.2,"x":7.2,"z":0.123},{"y":-13.7,"x":6.6,"z":0.006},{"y":-12,"x":7,"z":0.079},{"y":-10.5,"x":6.3,"z":-0.031},{"y":-8.8,"x":6.9,"z":0.051},{"y":-7.3,"x":7.3,"z":-0.046},{"y":-5.6,"x":6.5,"z":0.015},{"y":-4.1,"x":7.1,"z":-0.007},{"y":-2.4,"x":6.7,"z":0.028},{"y":-0.9,"x":6.4,"z":0.012},{"y":0.8,"x":7.2,"z":-0.027},{"y":2.3,"x":6.8,"z":0.046},{"y":4,"x":6.3,"z":-0.008},{"y":5.5,"x":7,"z":0.071},{"y":7.2,"x":6.6,"z":-0.053},{"y":8.7,"x":7.3,"z":0.019},{"y":10.4,"x":6.9,"z":-0.094},{"y":11.9,"x":6.5,"z":0.003},{"y":13.6,"x":7.2,"z":0.138},{"y":15.1,"x":6.8,"z":-0.016},{"y":16.8,"x":6.4,"z":0.127},{"y":18.1,"x":6.1,"z":-0.041},
{"y":-17.8,"x":8.6,"z":0.127},{"y":-16.3,"x":7.9,"z":-0.069},{"y":-14.6,"x":8.7,"z":0.008},{"y":-13.1,"x":8.1,"z":0.086},{"y":-11.4,"x":8.5,"z":-0.122},{"y":-9.9,"x":7.8,"z":0.054},{"y":-8.2,"x":8.4,"z":-0.036},{"y":-6.7,"x":8.8,"z":0.031},{"y":-5,"x":8,"z":-0.004},{"y":-3.5,"x":8.6,"z":0.062},{"y":-1.8,"x":8.2,"z":-0.037},{"y":-0.3,"x":7.9,"z":0.017},{"y":1.4,"x":8.7,"z":0.025},{"y":2.9,"x":8.3,"z":0.109},{"y":4.6,"x":7.8,"z":-0.012},{"y":6.1,"x":8.5,"z":0.044},{"y":7.8,"x":8.1,"z":-0.058},{"y":9.3,"x":8.8,"z":0.023},{"y":11,"x":8.4,"z":-0.171},{"y":12.5,"x":8,"z":0.006},{"y":14.2,"x":8.7,"z":0.079},{"y":15.7,"x":8.3,"z":-0.131},{"y":17.3,"x":7.9,"z":0.151},
{"y":-17.2,"x":10.1,"z":-0.046},{"y":-15.6,"x":9.4,"z":0.015},{"y":-14,"x":10.2,"z":-0.107},{"y":-12.4,"x":9.6,"z":0.098},{"y":-10.8,"x":10,"z":0.012},{"y":-9.2,"x":9.3,"z":-0.027},{"y":-7.6,"x":9.9,"z":0.046},{"y":-6,"x":10.3,"z":-0.008},{"y":-4.4,"x":9.5,"z":0.071},{"y":-2.8,"x":10.1,"z":-0.053},{"y":-1.2,"x":9.7,"z":0.019},{"y":0.4,"x":9.4,"z":-0.094},{"y":2,"x":10.2,"z":0.003},{"y":3.6,"x":9.8,"z":0.038},{"y":5.2,"x":9.3,"z":-0.016},{"y":6.8,"x":10,"z":0.127},{"y":8.4,"x":9.6,"z":-0.041},{"y":10,"x":10.3,"z":0.027},{"y":11.6,"x":9.9,"z":-0.069},{"y":13.2,"x":9.5,"z":0.108},{"y":14.8,"x":10.2,"z":0.186},{"y":16.5,"x":9.7,"z":-0.022},
{"y":-16.2,"x":11.6,"z":0.054},{"y":-14.6,"x":10.9,"z":-0.136},{"y":-13,"x":11.7,"z":0.031},{"y":-11.4,"x":11.1,"z":-0.004},{"y":-9.8,"x":11.5,"z":0.162},{"y":-8.2,"x":10.8,"z":-0.037},{"y":-6.6,"x":11.4,"z":0.117},{"y":-5,"x":11.8,"z":-0.078},{"y":-3.4,"x":11,"z":0.109},{"y":-1.8,"x":11.6,"z":-0.012},{"y":-0.2,"x":11.2,"z":0.044},{"y":1.4,"x":10.9,"z":-0.058},{"y":3,"x":11.7,"z":0.123},{"y":4.6,"x":11.3,"z":0.171},{"y":6.2,"x":10.8,"z":0.006},{"y":7.8,"x":11.5,"z":0.079},{"y":9.4,"x":11.1,"z":-0.031},{"y":11,"x":11.8,"z":0.151},{"y":12.6,"x":11.4,"z":-0.046},{"y":14.2,"x":11,"z":0.015},{"y":15.8,"x":11.6,"z":-0.107},
{"y":-15,"x":13.1,"z":0.098},{"y":-13.4,"x":12.4,"z":0.212},{"y":-11.8,"x":13.2,"z":-0.027},{"y":-10.2,"x":12.6,"z":0.146},{"y":-8.6,"x":13,"z":-0.008},{"y":-7,"x":12.3,"z":0.071},{"y":-5.4,"x":12.9,"z":-0.053},{"y":-3.8,"x":13.3,"z":0.119},{"y":-2.2,"x":12.5,"z":-0.094},{"y":-0.6,"x":13.1,"z":0.203},{"y":1,"x":12.7,"z":0.038},{"y":2.6,"x":12.4,"z":-0.016},{"y":4.2,"x":13.2,"z":0.127},{"y":5.8,"x":12.8,"z":-0.041},{"y":7.4,"x":12.3,"z":0.027},{"y":9,"x":13,"z":-0.069},{"y":10.6,"x":12.6,"z":0.168},{"y":12.2,"x":13.3,"z":0.086},{"y":13.8,"x":12.4,"z":-0.122},
{"y":-13.6,"x":14.6,"z":0.054},{"y":-12,"x":13.9,"z":-0.136},{"y":-10.4,"x":14.7,"z":0.131},{"y":-8.8,"x":14.1,"z":0.196},{"y":-7.2,"x":14.5,"z":0.062},{"y":-5.6,"x":13.8,"z":-0.037},{"y":-4,"x":14.4,"z":0.167},{"y":-2.4,"x":14.8,"z":-0.078},{"y":-0.8,"x":14,"z":0.109},{"y":0.8,"x":14.6,"z":-0.012},{"y":2.4,"x":14.2,"z":0.144},{"y":4,"x":13.9,"z":-0.058},{"y":5.6,"x":14.7,"z":0.023},{"y":7.2,"x":14.3,"z":-0.171},{"y":8.8,"x":13.8,"z":0.106},{"y":10.4,"x":14.5,"z":0.079},{"y":12,"x":14.1,"z":-0.031},{"y":13.5,"x":13.7,"z":0.151},
{"y":-12,"x":16.1,"z":-0.046},{"y":-10.4,"x":15.4,"z":0.115},{"y":-8.8,"x":16.2,"z":-0.107},{"y":-7.2,"x":15.6,"z":0.098},{"y":-5.6,"x":16,"z":0.132},{"y":-4,"x":15.3,"z":-0.027},{"y":-2.4,"x":15.9,"z":0.046},{"y":-0.8,"x":16.3,"z":0.195},{"y":0.8,"x":15.5,"z":0.071},{"y":2.4,"x":16.1,"z":-0.053},{"y":4,"x":15.7,"z":0.119},{"y":5.6,"x":15.4,"z":-0.094},{"y":7.2,"x":16.2,"z":0.183},{"y":8.8,"x":15.8,"z":0.038},{"y":10.4,"x":15.3,"z":-0.016},{"y":11.8,"x":15.6,"z":0.127},
{"y":-9.6,"x":17.6,"z":-0.041},{"y":-8,"x":16.9,"z":0.127},{"y":-6.4,"x":17.7,"z":0.027},{"y":-4.8,"x":17.1,"z":-0.069},{"y":-3.2,"x":17.5,"z":0.208},{"y":-1.6,"x":16.8,"z":0.086},{"y":0,"x":17.4,"z":-0.122},{"y":1.6,"x":17.8,"z":0.154},{"y":3.2,"x":17,"z":0.031},{"y":4.8,"x":17.6,"z":-0.004},{"y":6.4,"x":17.2,"z":0.162},{"y":8,"x":16.9,"z":-0.037},{"y":9.4,"x":17.1,"z":0.117},
{"y":-6.4,"x":19.1,"z":0.109},{"y":-4.8,"x":18.4,"z":-0.012},{"y":-3.2,"x":19.2,"z":0.144},{"y":-1.6,"x":18.6,"z":-0.058},{"y":0,"x":19,"z":0.023},{"y":1.6,"x":18.3,"z":0.196},{"y":3.2,"x":18.9,"z":0.006},{"y":4.8,"x":19.3,"z":0.079},{"y":6.2,"x":18.5,"z":-0.131}
],
"rv":[
{"r":2.07,"v":181.5,"s":13.16},{"r":2.1,"v":182,"s":11.87},{"r":2.35,"v":183,"s":9.9},{"r":2.44,"v":183.5,"s":9.67},{"r":1.98,"v":181,"s":9.39},{"r":2.35,"v":182.5,"s":9.25},{"r":3.45,"v":182,"s":9.35},{"r":3.29,"v":183,"s":8.85},{"r":1.89,"v":180,"s":7.76},{"r":1.45,"v":177,"s":7.03},{"r":3.45,"v":181.5,"s":7.24},{"r":2.3,"v":184,"s":6.78},{"r":3.45,"v":182.5,"s":6.35},{"r":3.68,"v":181,"s":6.43},{"r":3.93,"v":180,"s":6.21},{"r":2.07,"v":180.5,"s":5.97},{"r":2.55,"v":185,"s":5.59},{"r":3.68,"v":182,"s":5.78},{"r":3.6,"v":180.5,"s":5.68},{"r":3.83,"v":181.5,"s":5.26},{"r":5.6,"v":176,"s":5.45},{"r":1.84,"v":179,"s":4.59},{"r":2.4,"v":184.5,"s":4.63},{"r":1.63,"v":178,"s":4.32},{"r":1.98,"v":182,"s":4.03},{"r":2.49,"v":183,"s":4.14},{"r":1.52,"v":177.5,"s":3.81},{"r":2.63,"v":185.5,"s":3.89},{"r":2.72,"v":184,"s":3.77},{"r":3.91,"v":181,"s":3.81},{"r":4.92,"v":178.5,"s":4.4},{"r":5.15,"v":177,"s":4.59},{"r":5.7,"v":176.5,"s":4.18},{"r":6.18,"v":174,"s":4.08},{"r":6.55,"v":174.5,"s":4.25},{"r":7.54,"v":171,"s":4.37},{"r":8.2,"v":170.5,"s":4.49},{"r":9.54,"v":168,"s":4.4},{"r":10.25,"v":167,"s":4.1},{"r":8.96,"v":169.5,"s":3.92},{"r":9.15,"v":168.5,"s":3.63},{"r":1.4,"v":175.5,"s":2.94},{"r":1.8,"v":180,"s":2.39},{"r":2.3,"v":183,"s":1.95},{"r":2.37,"v":182,"s":0.64},
{"r":2.9,"v":184,"s":2.5},{"r":3.1,"v":183.5,"s":1.4},{"r":3.3,"v":182,"s":3},{"r":3.5,"v":183,"s":2.1},{"r":3.6,"v":181,"s":0.9},{"r":4,"v":181.5,"s":2.3},{"r":4.2,"v":179.5,"s":1.1},{"r":4.4,"v":180,"s":2.5},{"r":4.5,"v":181,"s":0.4},{"r":4.7,"v":178,"s":1.8},{"r":3,"v":185,"s":0.8},{"r":2.7,"v":183,"s":1.3},{"r":3.8,"v":182,"s":3.3},{"r":4.1,"v":180,"s":0.6},{"r":4.8,"v":179.5,"s":3.1},{"r":4.9,"v":177.5,"s":1.2},{"r":4.6,"v":179,"s":2.9},{"r":3.4,"v":181,"s":0.5},{"r":4.3,"v":178.5,"s":2},{"r":2.8,"v":184.5,"s":2.6},{"r":3.2,"v":181.5,"s":2.3},
{"r":5.1,"v":176.5,"s":0.7},{"r":5.22,"v":178.9,"s":2.3},{"r":5.37,"v":176.6,"s":0.2},{"r":5.49,"v":178.6,"s":1.4},{"r":5.63,"v":174.3,"s":3},{"r":5.76,"v":176.1,"s":0.5},{"r":5.88,"v":176.5,"s":1.9},{"r":6.02,"v":172.7,"s":0.9},{"r":6.16,"v":175.5,"s":2.6},{"r":6.27,"v":173.7,"s":0.3},{"r":6.41,"v":175.8,"s":1.2},{"r":6.56,"v":172.2,"s":2},{"r":6.68,"v":172.1,"s":0.6},{"r":6.81,"v":174.6,"s":1.6},{"r":6.97,"v":172.3,"s":2.8},{"r":7.08,"v":174.4,"s":0.1},{"r":7.22,"v":170.3,"s":1},{"r":7.39,"v":172.1,"s":2.4},{"r":7.52,"v":172.6,"s":0.4},{"r":7.63,"v":168.9,"s":1.7},{"r":7.79,"v":171.8,"s":3.2},{"r":7.91,"v":170.1,"s":0.8},{"r":8.07,"v":172.2,"s":1.3},{"r":8.23,"v":168.8,"s":2.2},{"r":8.38,"v":168.7,"s":0.2},{"r":8.49,"v":171.4,"s":1.5},{"r":8.63,"v":169.3,"s":2.7},{"r":8.81,"v":171.4,"s":0.6},{"r":8.92,"v":167.3,"s":1.1},{"r":9.08,"v":169.3,"s":1.9},{"r":9.19,"v":169.8,"s":0.3},{"r":9.33,"v":166.2,"s":2.5},{"r":9.46,"v":169.2,"s":0.9},{"r":9.62,"v":167.5,"s":1.4},{"r":9.71,"v":169.7,"s":3.4},{"r":9.88,"v":166.3,"s":0.5},
{"r":5.05,"v":179.4,"s":3.1},{"r":5.12,"v":175.6,"s":0.4},{"r":5.2,"v":177.9,"s":1.7},{"r":5.28,"v":179.7,"s":2.6},{"r":5.35,"v":176,"s":0.1},{"r":5.44,"v":174.2,"s":1.2},{"r":5.5,"v":177.5,"s":3.3},{"r":5.58,"v":176.3,"s":0.8},{"r":5.66,"v":178,"s":2.1},{"r":5.73,"v":174.3,"s":0.3},{"r":5.81,"v":176.4,"s":1.5},{"r":5.9,"v":174.8,"s":2.9},{"r":5.98,"v":177.3,"s":0.6},{"r":6.05,"v":172.7,"s":1.9},{"r":6.13,"v":175.9,"s":3.5},{"r":6.2,"v":173.7,"s":0.2},{"r":6.3,"v":175.7,"s":1.1},{"r":6.38,"v":172,"s":2.4},{"r":6.45,"v":174.4,"s":0.9},{"r":6.53,"v":176.2,"s":1.6},{"r":6.61,"v":172.5,"s":3},{"r":6.7,"v":170.8,"s":0.5},{"r":6.78,"v":174,"s":2.2},{"r":6.86,"v":172.9,"s":1.3},{"r":6.93,"v":174.7,"s":0.1},{"r":7.02,"v":171,"s":2.7},{"r":7.1,"v":173.1,"s":1.8},{"r":7.18,"v":171.6,"s":0.7},{"r":7.27,"v":174.1,"s":3.2},{"r":7.35,"v":169.6,"s":1},{"r":7.43,"v":172.8,"s":2},{"r":7.5,"v":170.7,"s":0.3},{"r":7.6,"v":172.8,"s":1.4},{"r":7.68,"v":169.1,"s":3.7},{"r":7.76,"v":171.5,"s":0.6},{"r":7.84,"v":173.3,"s":2.5},{"r":7.92,"v":169.7,"s":1.2},{"r":8,"v":168,"s":0.2},{"r":8.1,"v":171.4,"s":1.9},{"r":8.18,"v":170.2,"s":3},{"r":8.26,"v":172.1,"s":0.8},{"r":8.35,"v":168.5,"s":1.6},{"r":8.44,"v":170.6,"s":2.3},{"r":8.52,"v":169.2,"s":0.4},{"r":8.6,"v":171.8,"s":1.1},{"r":8.7,"v":167.3,"s":2.8},{"r":8.78,"v":170.5,"s":0.1},{"r":8.86,"v":168.4,"s":1.7},{"r":8.95,"v":170.6,"s":3.4},{"r":9.05,"v":166.9,"s":0.9},{"r":9.14,"v":169.3,"s":2.1},{"r":9.22,"v":171.2,"s":0.5},{"r":9.3,"v":167.6,"s":1.3},{"r":9.4,"v":165.9,"s":2.6},{"r":9.5,"v":169.3,"s":0.2},{"r":9.58,"v":168.1,"s":1.8},{"r":9.67,"v":170,"s":3.1},{"r":9.76,"v":166.4,"s":0.7},{"r":9.85,"v":168.5,"s":1.5},{"r":9.94,"v":167.1,"s":2.4},
{"r":10.03,"v":169,"s":0.4},{"r":10.08,"v":165.5,"s":1.8},{"r":10.12,"v":167.9,"s":0.9},{"r":10.18,"v":169.9,"s":2.6},{"r":10.22,"v":166.3,"s":0.2},{"r":10.27,"v":164.8,"s":1.3},{"r":10.33,"v":168.2,"s":0.7},{"r":10.37,"v":167.2,"s":2.1},{"r":10.42,"v":169.1,"s":0.1},{"r":10.48,"v":165.6,"s":1.5},{"r":10.53,"v":167.8,"s":3.1},{"r":10.57,"v":166.5,"s":0.6},{"r":10.62,"v":169.1,"s":1.1},{"r":10.68,"v":164.7,"s":2.3},{"r":10.72,"v":168,"s":0.3},{"r":10.77,"v":166,"s":1.7},{"r":10.83,"v":168.5,"s":0.8},{"r":10.87,"v":165.5,"s":1.2},{"r":10.93,"v":166.9,"s":0.5},{"r":10.97,"v":164.8,"s":2.8},
{"r":11.02,"v":164.7,"s":1},{"r":11.08,"v":166.8,"s":0.2},{"r":11.12,"v":165.2,"s":2},{"r":11.17,"v":168.2,"s":0.6},{"r":11.23,"v":165.5,"s":1.4},{"r":11.28,"v":167.5,"s":3.3},{"r":11.32,"v":164,"s":0.3},{"r":11.38,"v":168.4,"s":0.9},{"r":11.42,"v":165.6,"s":1.9},{"r":11.47,"v":166.9,"s":0.5},{"r":11.53,"v":164.5,"s":1.2},{"r":11.58,"v":168,"s":2.4},{"r":11.62,"v":165.9,"s":0.1},{"r":11.67,"v":166.9,"s":1.6},{"r":11.73,"v":163.3,"s":0.7},{"r":11.78,"v":164.8,"s":2.7},{"r":11.82,"v":168.2,"s":0.4},{"r":11.88,"v":166.2,"s":1.1},{"r":11.92,"v":163.6,"s":0.2},{"r":11.97,"v":167.1,"s":1.5},
{"r":12.03,"v":167,"s":0.8},{"r":12.07,"v":163.5,"s":2.2},{"r":12.13,"v":165.9,"s":0.3},{"r":12.18,"v":167.9,"s":1.3},{"r":12.22,"v":164.3,"s":0.6},{"r":12.28,"v":162.8,"s":1.9},{"r":12.32,"v":166.2,"s":0.1},{"r":12.37,"v":165.2,"s":2.9},{"r":12.43,"v":167.1,"s":1},{"r":12.47,"v":163.6,"s":0.4},{"r":12.53,"v":165.8,"s":1.6},{"r":12.58,"v":164.5,"s":0.7},{"r":12.62,"v":167.1,"s":2.5},{"r":12.68,"v":162.7,"s":0.2},{"r":12.72,"v":166,"s":1.2},{"r":12.77,"v":164,"s":0.9},{"r":12.83,"v":166.5,"s":3.4},{"r":12.87,"v":163.5,"s":0.5},{"r":12.92,"v":164.9,"s":1.4},{"r":12.98,"v":162.8,"s":0.3},
{"r":13.02,"v":162.7,"s":1.7},{"r":13.08,"v":164.8,"s":0.5},{"r":13.12,"v":163.2,"s":1.1},{"r":13.17,"v":166.2,"s":2.3},{"r":13.23,"v":163.5,"s":0.2},{"r":13.27,"v":165.5,"s":0.9},{"r":13.33,"v":162,"s":1.5},{"r":13.38,"v":166.4,"s":0.4},{"r":13.42,"v":163.6,"s":3},{"r":13.47,"v":164.9,"s":1.2},{"r":13.53,"v":162.5,"s":0.6},{"r":13.57,"v":166,"s":2},{"r":13.63,"v":163.9,"s":0.1},{"r":13.68,"v":164.9,"s":1.4},{"r":13.72,"v":161.3,"s":0.8},{"r":13.78,"v":162.8,"s":2.6},{"r":13.82,"v":166.2,"s":0.3},{"r":13.87,"v":164.2,"s":1},{"r":13.93,"v":161.6,"s":1.8},{"r":13.97,"v":165.1,"s":0.6},
{"r":14.03,"v":165,"s":0.3},{"r":14.07,"v":161.5,"s":1.3},{"r":14.12,"v":163.9,"s":2.1},{"r":14.18,"v":165.9,"s":0.7},{"r":14.22,"v":162.3,"s":3.6},{"r":14.28,"v":160.8,"s":0.2},{"r":14.33,"v":164.2,"s":1.6},{"r":14.37,"v":163.2,"s":0.9},{"r":14.42,"v":165.1,"s":0.4},{"r":14.48,"v":161.6,"s":2.4},{"r":14.52,"v":163.8,"s":1.1},{"r":14.57,"v":162.5,"s":0.5},{"r":14.63,"v":165.1,"s":1.9},{"r":14.67,"v":160.7,"s":0.1},{"r":14.72,"v":164,"s":1.2},{"r":14.78,"v":162,"s":3.2},{"r":14.83,"v":164.5,"s":0.6},{"r":14.87,"v":161.5,"s":1.5},{"r":14.92,"v":162.9,"s":0.8},{"r":14.97,"v":160.8,"s":2.2},
{"r":15.02,"v":163.5,"s":0.5},{"r":15.05,"v":160.2,"s":1.9},{"r":15.09,"v":162.7,"s":0.2},{"r":15.12,"v":164.6,"s":1.2},{"r":15.15,"v":161.4,"s":2.6},{"r":15.19,"v":159.9,"s":0.8},{"r":15.22,"v":163.9,"s":0.1},{"r":15.25,"v":162.1,"s":1.5},{"r":15.29,"v":164.3,"s":3.6},{"r":15.32,"v":160.9,"s":0.4},{"r":15.35,"v":163,"s":1.1},{"r":15.39,"v":161.7,"s":2.2},{"r":15.42,"v":164.7,"s":0.6},{"r":15.45,"v":160.3,"s":0.3},{"r":15.49,"v":163.3,"s":1.7},{"r":15.52,"v":161.3,"s":0.9},{"r":15.55,"v":164.2,"s":2.5},{"r":15.59,"v":161,"s":0.2},{"r":15.62,"v":162.5,"s":1.3},{"r":15.65,"v":160.6,"s":0.7},{"r":15.69,"v":164.5,"s":3.1},{"r":15.72,"v":161.9,"s":0.4},{"r":15.75,"v":163.2,"s":1},{"r":15.79,"v":160,"s":1.8},{"r":15.82,"v":163.7,"s":0.1},{"r":15.85,"v":161.6,"s":2.3},{"r":15.89,"v":162.4,"s":0.6},{"r":15.92,"v":164,"s":1.4},{"r":15.95,"v":161.2,"s":0.3},{"r":15.99,"v":162.9,"s":2},
{"r":16.02,"v":162.4,"s":1.1},{"r":16.05,"v":160.7,"s":0.3},{"r":16.09,"v":163.5,"s":2.4},{"r":16.12,"v":161.9,"s":0.7},{"r":16.15,"v":161.1,"s":3.75},{"r":16.19,"v":163.2,"s":0.2},{"r":16.22,"v":159.5,"s":1.6},{"r":16.25,"v":162.7,"s":0.9},{"r":16.29,"v":161.4,"s":2.9},{"r":16.32,"v":164,"s":0.4},{"r":16.35,"v":160.1,"s":1.3},{"r":16.39,"v":162,"s":0.1},{"r":16.42,"v":160.5,"s":2.1},{"r":16.45,"v":163.7,"s":0.6},{"r":16.49,"v":160.8,"s":3.3},{"r":16.52,"v":162.8,"s":1},{"r":16.55,"v":159.8,"s":0.3},{"r":16.59,"v":164.2,"s":1.8},{"r":16.62,"v":161.2,"s":0.5},{"r":16.65,"v":162.5,"s":2.6},{"r":16.69,"v":160.4,"s":1.2},{"r":16.72,"v":163.8,"s":0.2},{"r":16.75,"v":161.6,"s":1.5},{"r":16.79,"v":163.4,"s":3},{"r":16.82,"v":159.4,"s":0.7},{"r":16.85,"v":160.9,"s":0.4},{"r":16.89,"v":164.1,"s":2.2},{"r":16.92,"v":162.2,"s":0.9},{"r":16.95,"v":159.7,"s":1.4},{"r":16.99,"v":163,"s":0.2},
{"r":17.02,"v":162,"s":0.6},{"r":17.05,"v":160.7,"s":2.2},{"r":17.09,"v":163.7,"s":0.3},{"r":17.12,"v":159.3,"s":1.4},{"r":17.15,"v":162.3,"s":0.9},{"r":17.19,"v":160.3,"s":2.7},{"r":17.22,"v":163.2,"s":0.1},{"r":17.25,"v":160,"s":1.7},{"r":17.29,"v":161.5,"s":0.5},{"r":17.32,"v":159.6,"s":1.1},{"r":17.35,"v":163.5,"s":2.4},{"r":17.39,"v":160.9,"s":0.2},{"r":17.42,"v":162.2,"s":0.8},{"r":17.45,"v":159,"s":1.9},{"r":17.49,"v":162.7,"s":0.4},{"r":17.52,"v":160.6,"s":1.3},{"r":17.55,"v":161.4,"s":2.1},{"r":17.59,"v":163,"s":0.6},{"r":17.62,"v":160.2,"s":0.1},{"r":17.65,"v":161.9,"s":1.6},{"r":17.69,"v":162.5,"s":0.9},{"r":17.72,"v":159.2,"s":2.5},{"r":17.75,"v":161.7,"s":0.3},{"r":17.79,"v":163.6,"s":1},{"r":17.82,"v":160.4,"s":1.8},{"r":17.85,"v":158.9,"s":0.5},{"r":17.89,"v":162.9,"s":0.2},{"r":17.92,"v":161.1,"s":1.4},{"r":17.95,"v":163.3,"s":0.7},{"r":17.99,"v":159.9,"s":2},
{"r":18.02,"v":159.1,"s":0.3},{"r":18.05,"v":161,"s":1.5},{"r":18.09,"v":159.5,"s":0.8},{"r":18.12,"v":162.7,"s":2},{"r":18.15,"v":159.8,"s":0.1},{"r":18.19,"v":161.8,"s":1.2},{"r":18.22,"v":158.8,"s":0.5},{"r":18.25,"v":163.2,"s":1.8},{"r":18.29,"v":160.2,"s":0.9},{"r":18.32,"v":161.5,"s":0.2},{"r":18.35,"v":159.4,"s":1.4},{"r":18.39,"v":162.8,"s":2.3},{"r":18.42,"v":160.6,"s":0.6},{"r":18.45,"v":162.4,"s":0.1},{"r":18.49,"v":158.4,"s":1},{"r":18.52,"v":159.9,"s":1.7},{"r":18.55,"v":163.1,"s":0.4},{"r":18.59,"v":161.2,"s":0.8},{"r":18.62,"v":158.7,"s":2.1},{"r":18.65,"v":162,"s":0.3},{"r":18.69,"v":161.4,"s":1.3},{"r":18.72,"v":159.7,"s":0.6},{"r":18.75,"v":162.5,"s":1.9},{"r":18.79,"v":160.9,"s":0.2},{"r":18.82,"v":160.1,"s":0.9},{"r":18.85,"v":162.2,"s":1.5},{"r":18.89,"v":158.5,"s":0.4},{"r":18.92,"v":161.7,"s":2.8},{"r":18.95,"v":160.4,"s":0.7},{"r":18.99,"v":163,"s":1.1},
{"r":19.03,"v":162.2,"s":0.4},{"r":19.07,"v":159.6,"s":2.9},{"r":19.12,"v":160.9,"s":1.2},{"r":19.16,"v":157.7,"s":0.3},{"r":19.2,"v":161.4,"s":1.8},{"r":19.25,"v":159.3,"s":3.45},{"r":19.29,"v":160.1,"s":0.6},{"r":19.33,"v":161.7,"s":2.4},{"r":19.38,"v":158.9,"s":0.9},{"r":19.42,"v":160.6,"s":0.2},{"r":19.46,"v":161.2,"s":1.5},{"r":19.51,"v":157.9,"s":3.1},{"r":19.55,"v":160.4,"s":0.5},{"r":19.59,"v":162.3,"s":2.1},{"r":19.64,"v":159.1,"s":1},{"r":19.68,"v":157.6,"s":0.3},{"r":19.72,"v":161.6,"s":2.6},{"r":19.77,"v":159.8,"s":1.3},{"r":19.81,"v":162,"s":0.7},{"r":19.85,"v":158.6,"s":3.2},{"r":19.9,"v":160.7,"s":0.2},{"r":19.94,"v":159.4,"s":1.7},{"r":19.98,"v":162.4,"s":0.4},{"r":20.03,"v":158,"s":2.5},{"r":20.07,"v":161,"s":0.8},{"r":20.11,"v":159,"s":1.4},{"r":20.16,"v":161.9,"s":0.3},{"r":20.2,"v":158.7,"s":2.3},{"r":20.24,"v":160.2,"s":0.6},{"r":20.29,"v":158.3,"s":1.1},
{"r":8.05,"v":171.2,"s":0.15},{"r":8.15,"v":168.7,"s":0.6},{"r":8.25,"v":172,"s":1.1},{"r":8.35,"v":169.6,"s":0.3},{"r":8.45,"v":170.1,"s":0.9},{"r":8.55,"v":167.6,"s":1.5},{"r":8.65,"v":170.7,"s":0.05},{"r":8.75,"v":168.4,"s":0.45},{"r":8.85,"v":171.5,"s":1.3},{"r":8.95,"v":168.4,"s":0.7},{"r":9.05,"v":169.4,"s":0.2},{"r":9.15,"v":166.9,"s":1},{"r":9.25,"v":170.1,"s":1.7},{"r":9.35,"v":168.3,"s":0.35},{"r":9.45,"v":169.2,"s":0.8},{"r":9.55,"v":166.9,"s":0.1},{"r":9.65,"v":170,"s":1.2},{"r":9.75,"v":167,"s":0.55},{"r":9.85,"v":167.8,"s":1.9},{"r":9.95,"v":166.1,"s":0.25},
{"r":10.04,"v":169.2,"s":0.65},{"r":10.12,"v":166.8,"s":1.4},{"r":10.19,"v":168.4,"s":0.4},{"r":10.27,"v":165,"s":0.95},{"r":10.34,"v":167.8,"s":0.12},{"r":10.42,"v":166,"s":1.6},{"r":10.49,"v":168.4,"s":0.5},{"r":10.57,"v":166.6,"s":0.75},{"r":10.64,"v":169.1,"s":2.1},{"r":10.72,"v":165.1,"s":0.3},{"r":10.79,"v":167.5,"s":0.15},{"r":10.87,"v":165,"s":0.6},{"r":10.94,"v":168.5,"s":1.1},{"r":11.02,"v":166.1,"s":0.3},{"r":11.09,"v":166.7,"s":0.9},{"r":11.17,"v":164.2,"s":1.5},{"r":11.24,"v":167.5,"s":0.05},{"r":11.32,"v":165.2,"s":0.45},{"r":11.39,"v":168.4,"s":1.3},{"r":11.47,"v":165.3,"s":0.7},{"r":11.54,"v":166.5,"s":0.2},{"r":11.62,"v":164,"s":1},{"r":11.69,"v":167.3,"s":1.7},{"r":11.77,"v":165.5,"s":0.35},{"r":11.84,"v":166.6,"s":0.8},{"r":11.92,"v":164.3,"s":0.1},{"r":11.99,"v":167.5,"s":1.2},{"r":12.07,"v":164.5,"s":0.55},{"r":12.14,"v":165.5,"s":1.9},{"r":12.22,"v":163.8,"s":0.25},{"r":12.29,"v":166.9,"s":0.65},{"r":12.37,"v":164.5,"s":1.4},{"r":12.44,"v":166.2,"s":0.4},{"r":12.52,"v":162.8,"s":0.95},{"r":12.59,"v":165.5,"s":0.12},{"r":12.67,"v":163.7,"s":1.6},{"r":12.74,"v":166.2,"s":0.5},{"r":12.82,"v":164.4,"s":0.75},{"r":12.89,"v":166.8,"s":2.1},{"r":12.97,"v":162.8,"s":0.3},
{"r":13.03,"v":165,"s":1.5},{"r":13.09,"v":162.5,"s":0.05},{"r":13.15,"v":165.9,"s":0.45},{"r":13.21,"v":164.1,"s":1.3},{"r":13.26,"v":165.1,"s":0.7},{"r":13.32,"v":162.9,"s":0.2},{"r":13.38,"v":166.1,"s":1},{"r":13.44,"v":163.2,"s":1.7},{"r":13.5,"v":164.1,"s":0.35},{"r":13.56,"v":162.4,"s":0.8},{"r":13.62,"v":165.6,"s":0.1},{"r":13.67,"v":163.2,"s":1.2},{"r":13.73,"v":164.9,"s":0.55},{"r":13.79,"v":161.5,"s":1.9},{"r":13.85,"v":164.3,"s":0.25},{"r":13.91,"v":162.5,"s":0.65},{"r":13.97,"v":164.9,"s":1.4},{"r":14.02,"v":163.2,"s":0.4},{"r":14.08,"v":165.6,"s":0.95},{"r":14.14,"v":161.7,"s":0.12},{"r":14.2,"v":164.1,"s":1.6},{"r":14.26,"v":161.6,"s":0.5},{"r":14.32,"v":165.1,"s":0.75},{"r":14.38,"v":162.7,"s":2.1},{"r":14.43,"v":163.4,"s":0.3},{"r":14.49,"v":160.9,"s":0.15},{"r":14.55,"v":164.2,"s":0.6},{"r":14.61,"v":161.9,"s":1.1},{"r":14.67,"v":165.1,"s":0.3},{"r":14.73,"v":162.1,"s":0.9},{"r":14.79,"v":163.2,"s":1.5},{"r":14.84,"v":160.8,"s":0.05},{"r":14.9,"v":164.1,"s":0.45},{"r":14.96,"v":162.3,"s":1.3},{"r":15.02,"v":163.4,"s":0.7},{"r":15.08,"v":161.2,"s":0.2},{"r":15.14,"v":164.4,"s":1},{"r":15.2,"v":161.5,"s":1.7},{"r":15.25,"v":162.5,"s":0.35},{"r":15.31,"v":160.9,"s":0.8},{"r":15.37,"v":164,"s":0.1},{"r":15.43,"v":161.7,"s":1.2},{"r":15.49,"v":163.4,"s":0.55},{"r":15.55,"v":160,"s":1.9},{"r":15.6,"v":162.8,"s":0.25},{"r":15.66,"v":161.1,"s":0.65},{"r":15.72,"v":163.5,"s":1.4},{"r":15.78,"v":161.8,"s":0.4},{"r":15.84,"v":164.3,"s":0.95},{"r":15.9,"v":160.4,"s":0.12},{"r":15.96,"v":162.8,"s":1.6},{"r":16.01,"v":160.4,"s":0.5},{"r":16.07,"v":163.9,"s":0.75},{"r":16.13,"v":161.5,"s":2.1},{"r":16.19,"v":162.2,"s":0.3},{"r":16.25,"v":159.8,"s":0.15},{"r":16.31,"v":163.1,"s":0.6},{"r":16.37,"v":160.8,"s":1.1},{"r":16.42,"v":164.1,"s":0.3},{"r":16.48,"v":161.1,"s":0.9},
{"r":16.52,"v":160.4,"s":1.7},{"r":16.56,"v":163.7,"s":0.35},{"r":16.6,"v":160.8,"s":0.8},{"r":16.63,"v":161.8,"s":0.1},{"r":16.67,"v":160.2,"s":1.2},{"r":16.71,"v":163.3,"s":0.55},{"r":16.75,"v":161,"s":1.9},{"r":16.79,"v":162.7,"s":0.25},{"r":16.82,"v":159.4,"s":0.65},{"r":16.86,"v":162.1,"s":1.4},{"r":16.9,"v":160.4,"s":0.4},{"r":16.94,"v":162.9,"s":0.95},{"r":16.98,"v":161.2,"s":0.12},{"r":17.01,"v":163.7,"s":1.6},{"r":17.05,"v":159.7,"s":0.5},{"r":17.09,"v":162.2,"s":0.75},{"r":17.13,"v":159.8,"s":2.1},{"r":17.17,"v":163.3,"s":0.3},
{"r":17.2,"v":160.9,"s":0.3},{"r":17.24,"v":161.6,"s":2.1},{"r":17.28,"v":159.2,"s":0.75},{"r":17.32,"v":162.5,"s":0.5},{"r":17.36,"v":160.3,"s":1.6},{"r":17.39,"v":163.5,"s":0.12},{"r":17.43,"v":160.5,"s":0.95},{"r":17.47,"v":161.7,"s":0.4},{"r":17.51,"v":159.3,"s":1.4},{"r":17.55,"v":162.6,"s":0.65},{"r":17.58,"v":160.9,"s":0.25},{"r":17.62,"v":162,"s":1.9},{"r":17.66,"v":159.8,"s":0.55},{"r":17.7,"v":163,"s":1.2},{"r":17.74,"v":160.1,"s":0.1},{"r":17.77,"v":161.1,"s":0.8},{"r":17.81,"v":159.5,"s":0.35},{"r":17.85,"v":162.7,"s":1.7},{"r":17.89,"v":160.3,"s":1},{"r":17.93,"v":162,"s":0.2},{"r":17.96,"v":158.7,"s":0.7},{"r":18,"v":161.5,"s":1.3},{"r":18.04,"v":159.7,"s":0.45},{"r":18.08,"v":162.2,"s":0.05},{"r":18.12,"v":160.5,"s":1.5},{"r":18.15,"v":163,"s":0.9},{"r":18.19,"v":159.1,"s":0.3},{"r":18.23,"v":159.9,"s":1.1},{"r":18.27,"v":162.3,"s":0.6},{"r":18.31,"v":158.8,"s":0.15},
{"r":18.34,"v":161.1,"s":0.15},{"r":18.38,"v":160.3,"s":0.6},{"r":18.42,"v":162.7,"s":1.1},{"r":18.46,"v":159.4,"s":0.3},{"r":18.5,"v":161.6,"s":0.9},{"r":18.53,"v":158.3,"s":1.5},{"r":18.57,"v":161.2,"s":0.05},{"r":18.61,"v":160,"s":0.45},{"r":18.65,"v":162.4,"s":1.3},{"r":18.69,"v":159,"s":0.7},{"r":18.72,"v":160.6,"s":0.2},{"r":18.76,"v":159.5,"s":1},{"r":18.8,"v":161.7,"s":1.7},{"r":18.84,"v":158.4,"s":0.35},{"r":18.88,"v":161.3,"s":0.8},{"r":18.91,"v":160.2,"s":0.1},{"r":18.95,"v":161.8,"s":1.2},{"r":18.99,"v":158.6,"s":0.55},{"r":19.03,"v":160.9,"s":1.9},{"r":19.07,"v":159.1,"s":0.25},{"r":19.1,"v":162.4,"s":0.65},{"r":19.14,"v":159.6,"s":1.4},{"r":19.18,"v":161.3,"s":0.4},{"r":19.22,"v":158.8,"s":0.95},{"r":19.26,"v":160.4,"s":0.12},{"r":19.29,"v":157.9,"s":1.6},{"r":19.33,"v":161.8,"s":0.5},{"r":19.37,"v":160.9,"s":0.75},{"r":19.41,"v":158.4,"s":2.1},{"r":19.45,"v":161.9,"s":0.3},
{"r":19.48,"v":159.6,"s":0.42},{"r":19.52,"v":160.3,"s":1.05},{"r":19.56,"v":157.8,"s":0.18},{"r":19.6,"v":161.1,"s":0.72},{"r":19.64,"v":158.9,"s":1.35},{"r":19.67,"v":162.2,"s":0.08},{"r":19.71,"v":159.2,"s":0.88},{"r":19.75,"v":160.3,"s":0.28},{"r":19.79,"v":157.9,"s":1.55},{"r":19.83,"v":161.3,"s":0.62},{"r":19.86,"v":159.6,"s":0.02},{"r":19.9,"v":160.6,"s":1.15},{"r":19.94,"v":158.4,"s":0.38},{"r":19.98,"v":161.7,"s":0.78},{"r":20.02,"v":158.8,"s":1.8},{"r":20.05,"v":159.8,"s":0.22},{"r":20.09,"v":158.1,"s":0.52},{"r":20.13,"v":161.3,"s":1.25},{"r":20.17,"v":159,"s":0.09},{"r":20.21,"v":160.7,"s":0.68},{"r":20.24,"v":157.3,"s":2.4},{"r":20.28,"v":160.1,"s":0.33}
],
"curve":[
{"r":1,"b":140,"h":66},{"r":1.1,"b":144,"h":73},{"r":1.2,"b":147,"h":79},{"r":1.35,"b":149.2,"h":86.5},{"r":1.5,"b":150,"h":93},{"r":1.7,"b":149.6,"h":100.5},{"r":2,"b":147,"h":109},{"r":2.25,"b":143.8,"h":114.5},{"r":2.5,"b":140,"h":119},{"r":2.75,"b":136.3,"h":122.5},{"r":3,"b":132.5,"h":125.5},{"r":3.5,"b":125.5,"h":130.5},{"r":4,"b":119.5,"h":134},{"r":4.5,"b":114,"h":137},{"r":5,"b":109,"h":139},{"r":6,"b":100.5,"h":142},{"r":7,"b":94,"h":144},{"r":8,"b":88.5,"h":145.3},{"r":9,"b":84,"h":146.2},{"r":10,"b":80,"h":147},{"r":11,"b":76.5,"h":147.5},{"r":12,"b":73.5,"h":148},{"r":13,"b":70.8,"h":148.3},{"r":14,"b":68.5,"h":148.5},{"r":15,"b":66.3,"h":148.7},{"r":16,"b":64.2,"h":148.9},{"r":17,"b":62.3,"h":149.1},{"r":18,"b":60.5,"h":149.2},{"r":19,"b":58.8,"h":149.3},{"r":20,"b":57.2,"h":149.4}
]
},
"columns":2,
"bounds":"flush",
"spacing":{"row":121,"column":123},
"concat":[
{
"width":362,"height":366,
"title":{"text":"X-Y Plane","offset":3},
"layer":[
{"data":{"name":"pts"},"mark":{"type":"circle","size":22,"color":"black","opacity":1},
"encoding":{
"x":{"field":"x","type":"quantitative","scale":{"domain":[-26,26],"nice":false,"zero":false},"axis":{"values":[-20,-10,0,10,20],"title":"X [kpc]"}},
"y":{"field":"y","type":"quantitative","scale":{"domain":[-26,26],"nice":false,"zero":false},"axis":{"values":[-20,-10,0,10,20],"title":"Y [kpc]"}}}},
{"data":{"values":[{}]},"mark":{"type":"point","opacity":0},
"encoding":{
"x":{"datum":0,"type":"quantitative","axis":{"orient":"top","values":[-20,-10,0,10,20],"labels":false,"title":null}},
"y":{"datum":0,"type":"quantitative","axis":{"orient":"right","values":[-20,-10,0,10,20],"labels":false,"title":null}}}}
],
"resolve":{"axis":{"x":"independent","y":"independent"}}
},
{
"width":362,"height":366,
"title":{"text":"X-Z Plane","offset":-11.5},
"layer":[
{"data":{"name":"pts"},"mark":{"type":"circle","size":22,"color":"black","opacity":1},
"encoding":{
"x":{"field":"x","type":"quantitative","scale":{"domain":[-26,26],"nice":false,"zero":false},"axis":{"values":[-20,-10,0,10,20],"title":"X [kpc]"}},
"y":{"field":"z","type":"quantitative","scale":{"domain":[-0.4,0.4],"nice":false,"zero":false},"axis":{"values":[-0.4,-0.3,-0.2,-0.1,0,0.1,0.2,0.3,0.4],"format":".1f","title":"Z [kpc]"}}}},
{"data":{"values":[{}]},"mark":{"type":"point","opacity":0},
"encoding":{
"x":{"datum":0,"type":"quantitative","axis":{"orient":"top","values":[-20,-10,0,10,20],"labels":false,"title":null}},
"y":{"datum":0,"type":"quantitative","axis":{"orient":"right","values":[-0.4,-0.3,-0.2,-0.1,0,0.1,0.2,0.3,0.4],"labels":false,"title":null}}}}
],
"resolve":{"axis":{"x":"independent","y":"independent"}}
},
{
"width":362,"height":366,
"title":{"text":"Rotation Curve","offset":-11.5},
"layer":[
{"data":{"name":"curve"},"mark":{"type":"line","color":"#0000ff","strokeWidth":3,"interpolate":"monotone"},
"encoding":{
"x":{"field":"r","type":"quantitative","scale":{"domain":[0,25],"nice":false},"axis":{"values":[0,5,10,15,20,25],"title":"Radius [kpc]"}},
"y":{"field":"b","type":"quantitative","scale":{"domain":[0,250],"nice":false},"axis":{"values":[0,50,100,150,200,250],"title":"vᵣₒₜ [km/s]"}}}},
{"data":{"name":"curve"},"mark":{"type":"line","color":"#ff0000","strokeWidth":4,"strokeDash":[14,9.5],"interpolate":"monotone"},
"encoding":{
"x":{"field":"r","type":"quantitative","axis":null},
"y":{"field":"h","type":"quantitative","axis":null}}},
{"data":{"name":"rv"},"mark":{"type":"circle","size":32,"fill":"#008000","stroke":"black","strokeWidth":0.6,"opacity":1},
"encoding":{
"x":{"field":"r","type":"quantitative","axis":null},
"y":{"field":"v","type":"quantitative","axis":null}}},
{"data":{"values":[{}]},"mark":{"type":"point","opacity":0},
"encoding":{
"x":{"datum":0,"type":"quantitative","axis":{"orient":"top","values":[0,5,10,15,20,25],"labels":false,"title":null}},
"y":{"datum":0,"type":"quantitative","axis":{"orient":"right","values":[0,50,100,150,200,250],"labels":false,"title":null}}}}
],
"resolve":{"axis":{"x":"independent","y":"independent"}}
},
{
"width":362,"height":366,
"title":{"text":"Dispersion Velocity","offset":-11.5},
"layer":[
{"data":{"name":"rv"},"mark":{"type":"circle","size":32,"fill":"#008000","stroke":"black","strokeWidth":0.6,"opacity":1},
"encoding":{
"x":{"field":"r","type":"quantitative","scale":{"domain":[0,25],"nice":false},"axis":{"values":[0,5,10,15,20,25],"title":"Radius [kpc]"}},
"y":{"field":"s","type":"quantitative","scale":{"domain":[0,16],"nice":false},"axis":{"values":[0,2,4,6,8,10,12,14,16],"title":"σ [km/s]"}}}},
{"data":{"values":[{}]},"mark":{"type":"point","opacity":0},
"encoding":{
"x":{"datum":0,"type":"quantitative","axis":{"orient":"top","values":[0,5,10,15,20,25],"labels":false,"title":null}},
"y":{"datum":0,"type":"quantitative","axis":{"orient":"right","values":[0,2,4,6,8,10,12,14,16],"labels":false,"title":null}}}}
],
"resolve":{"axis":{"x":"independent","y":"independent"}}
}
]
}
